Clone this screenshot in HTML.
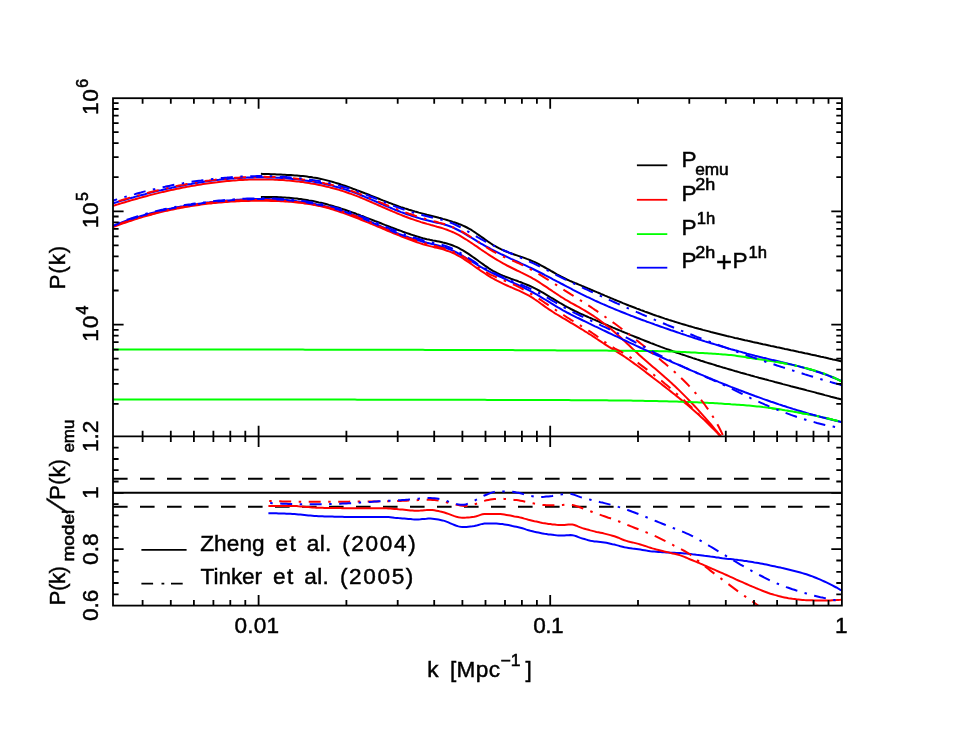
<!DOCTYPE html>
<html><head><meta charset="utf-8"><title>Power spectrum halo model comparison</title>
<style>html,body{margin:0;padding:0;background:#fff}svg{display:block;will-change:transform}text{font-family:"Liberation Sans",sans-serif;fill:#000;stroke:#000;stroke-width:0.45px}</style>
</head><body>
<svg width="955" height="738" viewBox="0 0 955 738">
<rect width="955" height="738" fill="#fff"/>
<defs><clipPath id="ct"><rect x="113.0" y="98.2" width="728.9" height="338.2"/></clipPath><clipPath id="cb"><rect x="113.0" y="436.4" width="728.9" height="169.20000000000005"/></clipPath></defs>
<path d="M260.9 173.8 L262.9 173.9 L264.9 174.0 L266.9 174.1 L268.9 174.1 L270.9 174.2 L272.9 174.3 L274.9 174.3 L276.9 174.4 L278.9 174.5 L280.9 174.6 L282.9 174.7 L284.9 174.8 L286.9 174.9 L288.9 175.0 L290.9 175.1 L292.9 175.2 L294.9 175.4 L296.9 175.5 L298.9 175.7 L300.9 175.9 L302.9 176.1 L304.9 176.3 L306.9 176.6 L308.9 176.9 L310.9 177.1 L312.9 177.5 L314.9 177.8 L316.9 178.1 L318.9 178.5 L320.9 178.9 L322.9 179.4 L324.9 179.9 L326.9 180.4 L328.9 180.9 L330.9 181.4 L332.9 182.0 L334.9 182.6 L336.9 183.2 L338.9 183.8 L340.9 184.5 L342.9 185.1 L344.9 185.8 L346.9 186.5 L348.9 187.2 L350.9 187.9 L352.9 188.7 L354.9 189.4 L356.9 190.2 L358.9 190.9 L360.9 191.7 L362.9 192.5 L364.9 193.3 L366.9 194.0 L368.9 194.8 L370.9 195.6 L372.9 196.4 L374.9 197.2 L376.9 198.0 L378.9 198.8 L380.9 199.6 L382.9 200.4 L384.9 201.1 L386.9 201.9 L388.9 202.7 L390.9 203.4 L392.9 204.2 L394.9 204.9 L396.9 205.6 L398.9 206.4 L400.9 207.1 L402.9 207.7 L404.9 208.4 L406.9 209.0 L408.9 209.7 L410.9 210.3 L412.9 210.9 L414.9 211.5 L416.9 212.0 L418.9 212.6 L420.9 213.1 L422.9 213.6 L424.9 214.1 L426.9 214.7 L428.9 215.2 L430.9 215.7 L432.9 216.2 L434.9 216.7 L436.9 217.2 L438.9 217.8 L440.9 218.3 L442.9 218.9 L444.9 219.4 L446.9 220.0 L448.9 220.6 L450.9 221.2 L452.9 221.9 L454.9 222.5 L456.9 223.2 L458.9 224.0 L460.9 224.7 L462.9 225.6 L464.9 226.5 L466.9 227.5 L468.9 228.6 L470.9 229.7 L472.9 231.0 L474.9 232.3 L476.9 233.7 L478.9 235.1 L480.9 236.5 L482.9 237.9 L484.9 239.4 L486.9 240.8 L488.9 242.2 L490.9 243.5 L492.9 244.8 L494.9 246.0 L496.9 247.1 L498.9 248.2 L500.9 249.2 L502.9 250.1 L504.9 251.0 L506.9 251.8 L508.9 252.6 L510.9 253.3 L512.9 254.0 L514.9 254.7 L516.9 255.4 L518.9 256.1 L520.9 256.8 L522.9 257.4 L524.9 258.1 L526.9 258.9 L528.9 259.6 L530.9 260.5 L532.9 261.3 L534.9 262.2 L536.9 263.2 L538.9 264.2 L540.9 265.3 L542.9 266.4 L544.9 267.5 L546.9 268.6 L548.9 269.7 L550.9 270.9 L552.9 272.0 L554.9 273.1 L556.9 274.3 L558.9 275.4 L560.9 276.5 L562.9 277.5 L564.9 278.5 L566.9 279.5 L568.9 280.4 L570.9 281.3 L572.9 282.1 L574.9 283.0 L576.9 283.8 L578.9 284.6 L580.9 285.4 L582.9 286.3 L584.9 287.1 L586.9 287.9 L588.9 288.8 L590.9 289.6 L592.9 290.5 L594.9 291.3 L596.9 292.2 L598.9 293.0 L600.9 293.9 L602.9 294.7 L604.9 295.6 L606.9 296.4 L608.9 297.3 L610.9 298.1 L612.9 298.9 L614.9 299.8 L616.9 300.6 L618.9 301.4 L620.9 302.2 L622.9 303.1 L624.9 303.9 L626.9 304.7 L628.9 305.5 L630.9 306.2 L632.9 307.0 L634.9 307.8 L636.9 308.6 L638.9 309.3 L640.9 310.1 L642.9 310.8 L644.9 311.6 L646.9 312.3 L648.9 313.0 L650.9 313.7 L652.9 314.5 L654.9 315.2 L656.9 315.9 L658.9 316.5 L660.9 317.2 L662.9 317.9 L664.9 318.6 L666.9 319.2 L668.9 319.9 L670.9 320.5 L672.9 321.1 L674.9 321.8 L676.9 322.4 L678.9 323.0 L680.9 323.6 L682.9 324.2 L684.9 324.8 L686.9 325.4 L688.9 326.0 L690.9 326.5 L692.9 327.1 L694.9 327.7 L696.9 328.2 L698.9 328.8 L700.9 329.3 L702.9 329.9 L704.9 330.4 L706.9 330.9 L708.9 331.4 L710.9 332.0 L712.9 332.5 L714.9 333.0 L716.9 333.5 L718.9 334.0 L720.9 334.5 L722.9 335.0 L724.9 335.5 L726.9 336.0 L728.9 336.4 L730.9 336.9 L732.9 337.4 L734.9 337.9 L736.9 338.3 L738.9 338.8 L740.9 339.2 L742.9 339.7 L744.9 340.2 L746.9 340.6 L748.9 341.1 L750.9 341.5 L752.9 342.0 L754.9 342.4 L756.9 342.8 L758.9 343.3 L760.9 343.7 L762.9 344.2 L764.9 344.6 L766.9 345.0 L768.9 345.4 L770.9 345.9 L772.9 346.3 L774.9 346.7 L776.9 347.2 L778.9 347.6 L780.9 348.0 L782.9 348.4 L784.9 348.9 L786.9 349.3 L788.9 349.7 L790.9 350.2 L792.9 350.6 L794.9 351.0 L796.9 351.4 L798.9 351.9 L800.9 352.3 L802.9 352.7 L804.9 353.2 L806.9 353.6 L808.9 354.0 L810.9 354.5 L812.9 354.9 L814.9 355.3 L816.9 355.8 L818.9 356.2 L820.9 356.7 L822.9 357.1 L824.9 357.6 L826.9 358.0 L828.9 358.5 L830.9 358.9 L832.9 359.4 L834.9 359.8 L836.9 360.3 L838.9 360.8 L840.9 361.2 L842.0 361.5" fill="none" stroke="#000" stroke-width="2.0" clip-path="url(#ct)"/>
<path d="M260.9 196.9 L262.9 196.9 L264.9 196.9 L266.9 196.9 L268.9 196.9 L270.9 196.9 L272.9 197.0 L274.9 197.0 L276.9 197.1 L278.9 197.2 L280.9 197.3 L282.9 197.4 L284.9 197.5 L286.9 197.7 L288.9 197.8 L290.9 198.0 L292.9 198.2 L294.9 198.4 L296.9 198.6 L298.9 198.9 L300.9 199.1 L302.9 199.4 L304.9 199.7 L306.9 200.0 L308.9 200.4 L310.9 200.7 L312.9 201.1 L314.9 201.5 L316.9 201.9 L318.9 202.4 L320.9 202.8 L322.9 203.3 L324.9 203.8 L326.9 204.3 L328.9 204.9 L330.9 205.4 L332.9 206.0 L334.9 206.6 L336.9 207.2 L338.9 207.8 L340.9 208.5 L342.9 209.1 L344.9 209.8 L346.9 210.5 L348.9 211.2 L350.9 211.9 L352.9 212.6 L354.9 213.3 L356.9 214.1 L358.9 214.8 L360.9 215.6 L362.9 216.3 L364.9 217.1 L366.9 217.9 L368.9 218.6 L370.9 219.4 L372.9 220.2 L374.9 221.0 L376.9 221.7 L378.9 222.5 L380.9 223.3 L382.9 224.1 L384.9 224.9 L386.9 225.6 L388.9 226.4 L390.9 227.2 L392.9 227.9 L394.9 228.7 L396.9 229.5 L398.9 230.2 L400.9 230.9 L402.9 231.7 L404.9 232.4 L406.9 233.1 L408.9 233.8 L410.9 234.5 L412.9 235.1 L414.9 235.8 L416.9 236.4 L418.9 237.0 L420.9 237.6 L422.9 238.2 L424.9 238.7 L426.9 239.2 L428.9 239.6 L430.9 240.1 L432.9 240.5 L434.9 240.8 L436.9 241.2 L438.9 241.6 L440.9 242.0 L442.9 242.5 L444.9 242.9 L446.9 243.5 L448.9 244.1 L450.9 244.7 L452.9 245.5 L454.9 246.3 L456.9 247.2 L458.9 248.2 L460.9 249.3 L462.9 250.4 L464.9 251.6 L466.9 252.9 L468.9 254.2 L470.9 255.6 L472.9 257.0 L474.9 258.4 L476.9 259.8 L478.9 261.3 L480.9 262.7 L482.9 264.1 L484.9 265.6 L486.9 266.9 L488.9 268.3 L490.9 269.6 L492.9 270.8 L494.9 271.9 L496.9 273.0 L498.9 273.9 L500.9 274.8 L502.9 275.7 L504.9 276.5 L506.9 277.2 L508.9 277.9 L510.9 278.7 L512.9 279.4 L514.9 280.1 L516.9 280.8 L518.9 281.6 L520.9 282.3 L522.9 283.1 L524.9 283.9 L526.9 284.7 L528.9 285.5 L530.9 286.4 L532.9 287.4 L534.9 288.4 L536.9 289.4 L538.9 290.5 L540.9 291.6 L542.9 292.7 L544.9 293.9 L546.9 295.1 L548.9 296.3 L550.9 297.5 L552.9 298.7 L554.9 299.9 L556.9 301.1 L558.9 302.3 L560.9 303.5 L562.9 304.6 L564.9 305.8 L566.9 306.9 L568.9 307.9 L570.9 309.0 L572.9 310.0 L574.9 311.0 L576.9 311.9 L578.9 312.9 L580.9 313.8 L582.9 314.7 L584.9 315.6 L586.9 316.5 L588.9 317.4 L590.9 318.2 L592.9 319.1 L594.9 319.9 L596.9 320.8 L598.9 321.6 L600.9 322.5 L602.9 323.3 L604.9 324.2 L606.9 325.0 L608.9 325.9 L610.9 326.7 L612.9 327.6 L614.9 328.4 L616.9 329.3 L618.9 330.1 L620.9 330.9 L622.9 331.8 L624.9 332.6 L626.9 333.4 L628.9 334.2 L630.9 335.1 L632.9 335.9 L634.9 336.7 L636.9 337.5 L638.9 338.3 L640.9 339.1 L642.9 339.9 L644.9 340.7 L646.9 341.5 L648.9 342.3 L650.9 343.1 L652.9 343.8 L654.9 344.6 L656.9 345.4 L658.9 346.1 L660.9 346.9 L662.9 347.6 L664.9 348.4 L666.9 349.1 L668.9 349.8 L670.9 350.5 L672.9 351.3 L674.9 352.0 L676.9 352.7 L678.9 353.4 L680.9 354.1 L682.9 354.7 L684.9 355.4 L686.9 356.1 L688.9 356.8 L690.9 357.4 L692.9 358.1 L694.9 358.7 L696.9 359.4 L698.9 360.0 L700.9 360.7 L702.9 361.3 L704.9 362.0 L706.9 362.6 L708.9 363.2 L710.9 363.8 L712.9 364.4 L714.9 365.0 L716.9 365.7 L718.9 366.3 L720.9 366.9 L722.9 367.5 L724.9 368.0 L726.9 368.6 L728.9 369.2 L730.9 369.8 L732.9 370.4 L734.9 371.0 L736.9 371.5 L738.9 372.1 L740.9 372.7 L742.9 373.2 L744.9 373.8 L746.9 374.4 L748.9 374.9 L750.9 375.5 L752.9 376.0 L754.9 376.6 L756.9 377.1 L758.9 377.7 L760.9 378.2 L762.9 378.7 L764.9 379.3 L766.9 379.8 L768.9 380.4 L770.9 380.9 L772.9 381.4 L774.9 382.0 L776.9 382.5 L778.9 383.0 L780.9 383.5 L782.9 384.1 L784.9 384.6 L786.9 385.1 L788.9 385.6 L790.9 386.2 L792.9 386.7 L794.9 387.2 L796.9 387.7 L798.9 388.3 L800.9 388.8 L802.9 389.3 L804.9 389.8 L806.9 390.4 L808.9 390.9 L810.9 391.4 L812.9 391.9 L814.9 392.4 L816.9 393.0 L818.9 393.5 L820.9 394.0 L822.9 394.5 L824.9 395.1 L826.9 395.6 L828.9 396.1 L830.9 396.7 L832.9 397.2 L834.9 397.7 L836.9 398.3 L838.9 398.8 L840.9 399.3 L842.0 399.6" fill="none" stroke="#000" stroke-width="2.0" clip-path="url(#ct)"/>
<path d="M113.0 205.9 L115.0 205.3 L117.0 204.6 L119.0 204.0 L121.0 203.4 L123.0 202.8 L125.0 202.2 L127.0 201.6 L129.0 201.0 L131.0 200.4 L133.0 199.8 L135.0 199.3 L137.0 198.7 L139.0 198.1 L141.0 197.6 L143.0 197.0 L145.0 196.5 L147.0 196.0 L149.0 195.4 L151.0 194.9 L153.0 194.4 L155.0 193.9 L157.0 193.4 L159.0 192.9 L161.0 192.4 L163.0 191.9 L165.0 191.5 L167.0 191.0 L169.0 190.5 L171.0 190.1 L173.0 189.7 L175.0 189.2 L177.0 188.8 L179.0 188.4 L181.0 188.0 L183.0 187.6 L185.0 187.2 L187.0 186.8 L189.0 186.4 L191.0 186.1 L193.0 185.7 L195.0 185.4 L197.0 185.0 L199.0 184.7 L201.0 184.4 L203.0 184.1 L205.0 183.8 L207.0 183.5 L209.0 183.2 L211.0 182.9 L213.0 182.7 L215.0 182.4 L217.0 182.2 L219.0 181.9 L221.0 181.7 L223.0 181.5 L225.0 181.3 L227.0 181.1 L229.0 180.9 L231.0 180.7 L233.0 180.6 L235.0 180.4 L237.0 180.3 L239.0 180.1 L241.0 180.0 L243.0 179.9 L245.0 179.8 L247.0 179.7 L249.0 179.6 L251.0 179.6 L253.0 179.5 L255.0 179.5 L257.0 179.5 L259.0 179.4 L261.0 179.4 L263.0 179.4 L265.0 179.4 L267.0 179.5 L269.0 179.5 L271.0 179.6 L273.0 179.6 L275.0 179.7 L277.0 179.8 L279.0 179.9 L281.0 180.0 L283.0 180.1 L285.0 180.3 L287.0 180.4 L289.0 180.6 L291.0 180.8 L293.0 181.0 L295.0 181.2 L297.0 181.4 L299.0 181.6 L301.0 181.9 L303.0 182.1 L305.0 182.4 L307.0 182.7 L309.0 183.0 L311.0 183.4 L313.0 183.7 L315.0 184.1 L317.0 184.5 L319.0 184.9 L321.0 185.3 L323.0 185.7 L325.0 186.2 L327.0 186.7 L329.0 187.1 L331.0 187.7 L333.0 188.2 L335.0 188.7 L337.0 189.3 L339.0 189.9 L341.0 190.5 L343.0 191.1 L345.0 191.8 L347.0 192.5 L349.0 193.2 L351.0 193.9 L353.0 194.6 L355.0 195.4 L357.0 196.1 L359.0 196.9 L361.0 197.7 L363.0 198.6 L365.0 199.4 L367.0 200.3 L369.0 201.1 L371.0 202.0 L373.0 202.9 L375.0 203.7 L377.0 204.6 L379.0 205.5 L381.0 206.4 L383.0 207.3 L385.0 208.1 L387.0 209.0 L389.0 209.9 L391.0 210.7 L393.0 211.6 L395.0 212.4 L397.0 213.3 L399.0 214.1 L401.0 214.9 L403.0 215.7 L405.0 216.5 L407.0 217.2 L409.0 218.0 L411.0 218.7 L413.0 219.4 L415.0 220.1 L417.0 220.8 L419.0 221.4 L421.0 222.1 L423.0 222.7 L425.0 223.3 L427.0 223.9 L429.0 224.4 L431.0 225.0 L433.0 225.5 L435.0 226.1 L437.0 226.7 L439.0 227.2 L441.0 227.8 L443.0 228.4 L445.0 229.1 L447.0 229.8 L449.0 230.6 L451.0 231.4 L453.0 232.2 L455.0 233.2 L457.0 234.2 L459.0 235.2 L461.0 236.4 L463.0 237.6 L465.0 238.8 L467.0 240.0 L469.0 241.3 L471.0 242.7 L473.0 244.0 L475.0 245.4 L477.0 246.7 L479.0 248.1 L481.0 249.5 L483.0 250.8 L485.0 252.2 L487.0 253.5 L489.0 254.8 L491.0 256.1 L493.0 257.3 L495.0 258.6 L497.0 259.8 L499.0 261.0 L501.0 262.2 L503.0 263.3 L505.0 264.4 L507.0 265.5 L509.0 266.5 L511.0 267.5 L513.0 268.5 L515.0 269.5 L517.0 270.5 L519.0 271.4 L521.0 272.4 L523.0 273.3 L525.0 274.3 L527.0 275.3 L529.0 276.4 L531.0 277.4 L533.0 278.6 L535.0 279.7 L537.0 280.9 L539.0 282.2 L541.0 283.5 L543.0 284.8 L545.0 286.1 L547.0 287.4 L549.0 288.8 L551.0 290.1 L553.0 291.5 L555.0 292.8 L557.0 294.2 L559.0 295.5 L561.0 296.8 L563.0 298.0 L565.0 299.3 L567.0 300.5 L569.0 301.6 L571.0 302.8 L573.0 303.9 L575.0 305.0 L577.0 306.1 L579.0 307.2 L581.0 308.3 L583.0 309.5 L585.0 310.7 L587.0 311.9 L589.0 313.1 L591.0 314.4 L593.0 315.7 L595.0 317.0 L597.0 318.4 L599.0 319.8 L601.0 321.2 L603.0 322.7 L605.0 324.2 L607.0 325.8 L609.0 327.4 L611.0 329.0 L613.0 330.7 L615.0 332.4 L617.0 334.2 L619.0 336.0 L621.0 337.8 L623.0 339.7 L625.0 341.5 L627.0 343.4 L629.0 345.3 L631.0 347.2 L633.0 349.1 L635.0 351.0 L637.0 352.8 L639.0 354.7 L641.0 356.5 L643.0 358.3 L645.0 360.0 L647.0 361.7 L649.0 363.5 L651.0 365.2 L653.0 366.9 L655.0 368.6 L657.0 370.3 L659.0 372.0 L661.0 373.7 L663.0 375.4 L665.0 377.2 L667.0 378.9 L669.0 380.7 L671.0 382.6 L673.0 384.4 L675.0 386.3 L677.0 388.2 L679.0 390.1 L681.0 392.1 L683.0 394.1 L685.0 396.1 L687.0 398.1 L689.0 400.2 L691.0 402.3 L693.0 404.4 L695.0 406.5 L697.0 408.7 L699.0 410.9 L701.0 413.1 L703.0 415.3 L705.0 417.6 L707.0 419.9 L709.0 422.2 L711.0 424.5 L713.0 426.9 L715.0 429.3 L717.0 431.7 L719.0 434.1 L721.0 436.6 L721.3 437.0" fill="none" stroke="#ff0000" stroke-width="2.0" clip-path="url(#ct)"/>
<path d="M113.0 227.1 L115.0 226.3 L117.0 225.6 L119.0 224.8 L121.0 224.1 L123.0 223.4 L125.0 222.7 L127.0 222.0 L129.0 221.3 L131.0 220.7 L133.0 220.0 L135.0 219.4 L137.0 218.7 L139.0 218.1 L141.0 217.5 L143.0 216.9 L145.0 216.3 L147.0 215.8 L149.0 215.2 L151.0 214.7 L153.0 214.1 L155.0 213.6 L157.0 213.1 L159.0 212.6 L161.0 212.1 L163.0 211.6 L165.0 211.1 L167.0 210.7 L169.0 210.2 L171.0 209.8 L173.0 209.4 L175.0 209.0 L177.0 208.6 L179.0 208.2 L181.0 207.8 L183.0 207.4 L185.0 207.1 L187.0 206.7 L189.0 206.4 L191.0 206.1 L193.0 205.8 L195.0 205.4 L197.0 205.2 L199.0 204.9 L201.0 204.6 L203.0 204.3 L205.0 204.1 L207.0 203.8 L209.0 203.6 L211.0 203.4 L213.0 203.1 L215.0 202.9 L217.0 202.7 L219.0 202.6 L221.0 202.4 L223.0 202.2 L225.0 202.1 L227.0 201.9 L229.0 201.8 L231.0 201.6 L233.0 201.5 L235.0 201.4 L237.0 201.3 L239.0 201.2 L241.0 201.1 L243.0 201.0 L245.0 201.0 L247.0 200.9 L249.0 200.9 L251.0 200.8 L253.0 200.8 L255.0 200.8 L257.0 200.7 L259.0 200.7 L261.0 200.7 L263.0 200.7 L265.0 200.8 L267.0 200.8 L269.0 200.8 L271.0 200.9 L273.0 200.9 L275.0 201.0 L277.0 201.0 L279.0 201.1 L281.0 201.2 L283.0 201.3 L285.0 201.4 L287.0 201.5 L289.0 201.7 L291.0 201.8 L293.0 202.0 L295.0 202.2 L297.0 202.4 L299.0 202.6 L301.0 202.8 L303.0 203.1 L305.0 203.4 L307.0 203.7 L309.0 204.0 L311.0 204.3 L313.0 204.7 L315.0 205.1 L317.0 205.5 L319.0 205.9 L321.0 206.4 L323.0 206.9 L325.0 207.4 L327.0 207.9 L329.0 208.4 L331.0 209.0 L333.0 209.6 L335.0 210.2 L337.0 210.9 L339.0 211.5 L341.0 212.2 L343.0 212.9 L345.0 213.6 L347.0 214.3 L349.0 215.0 L351.0 215.8 L353.0 216.5 L355.0 217.3 L357.0 218.1 L359.0 218.9 L361.0 219.7 L363.0 220.5 L365.0 221.3 L367.0 222.1 L369.0 222.9 L371.0 223.7 L373.0 224.6 L375.0 225.4 L377.0 226.3 L379.0 227.1 L381.0 227.9 L383.0 228.8 L385.0 229.6 L387.0 230.5 L389.0 231.3 L391.0 232.1 L393.0 233.0 L395.0 233.8 L397.0 234.6 L399.0 235.4 L401.0 236.2 L403.0 237.0 L405.0 237.8 L407.0 238.5 L409.0 239.3 L411.0 240.1 L413.0 240.8 L415.0 241.5 L417.0 242.2 L419.0 242.9 L421.0 243.5 L423.0 244.2 L425.0 244.8 L427.0 245.3 L429.0 245.9 L431.0 246.4 L433.0 246.9 L435.0 247.4 L437.0 247.8 L439.0 248.4 L441.0 248.9 L443.0 249.4 L445.0 250.0 L447.0 250.7 L449.0 251.4 L451.0 252.1 L453.0 253.0 L455.0 253.9 L457.0 255.0 L459.0 256.1 L461.0 257.2 L463.0 258.5 L465.0 259.8 L467.0 261.1 L469.0 262.5 L471.0 263.8 L473.0 265.3 L475.0 266.7 L477.0 268.1 L479.0 269.5 L481.0 270.9 L483.0 272.2 L485.0 273.5 L487.0 274.8 L489.0 276.1 L491.0 277.3 L493.0 278.5 L495.0 279.6 L497.0 280.7 L499.0 281.7 L501.0 282.7 L503.0 283.7 L505.0 284.6 L507.0 285.5 L509.0 286.4 L511.0 287.2 L513.0 288.1 L515.0 289.0 L517.0 289.8 L519.0 290.7 L521.0 291.6 L523.0 292.6 L525.0 293.6 L527.0 294.6 L529.0 295.7 L531.0 296.9 L533.0 298.1 L535.0 299.5 L537.0 300.8 L539.0 302.2 L541.0 303.7 L543.0 305.1 L545.0 306.6 L547.0 308.0 L549.0 309.4 L551.0 310.7 L553.0 312.0 L555.0 313.3 L557.0 314.5 L559.0 315.7 L561.0 316.9 L563.0 318.1 L565.0 319.2 L567.0 320.4 L569.0 321.6 L571.0 322.8 L573.0 323.9 L575.0 325.1 L577.0 326.3 L579.0 327.6 L581.0 328.8 L583.0 330.0 L585.0 331.3 L587.0 332.5 L589.0 333.8 L591.0 335.0 L593.0 336.3 L595.0 337.6 L597.0 339.0 L599.0 340.3 L601.0 341.6 L603.0 343.0 L605.0 344.3 L607.0 345.6 L609.0 346.9 L611.0 348.1 L613.0 349.4 L615.0 350.6 L617.0 351.8 L619.0 353.1 L621.0 354.4 L623.0 355.7 L625.0 357.0 L627.0 358.4 L629.0 359.8 L631.0 361.2 L633.0 362.6 L635.0 364.1 L637.0 365.5 L639.0 367.0 L641.0 368.5 L643.0 370.0 L645.0 371.5 L647.0 373.1 L649.0 374.6 L651.0 376.1 L653.0 377.7 L655.0 379.2 L657.0 380.7 L659.0 382.3 L661.0 383.8 L663.0 385.4 L665.0 386.9 L667.0 388.5 L669.0 390.0 L671.0 391.6 L673.0 393.2 L675.0 394.8 L677.0 396.4 L679.0 398.0 L681.0 399.6 L683.0 401.3 L685.0 402.9 L687.0 404.6 L689.0 406.3 L691.0 408.0 L693.0 409.7 L695.0 411.5 L697.0 413.3 L699.0 415.1 L701.0 416.9 L703.0 418.7 L705.0 420.6 L707.0 422.5 L709.0 424.5 L711.0 426.5 L713.0 428.5 L715.0 430.5 L717.0 432.6 L719.0 434.7 L720.8 436.7" fill="none" stroke="#ff0000" stroke-width="2.0" clip-path="url(#ct)"/>
<path d="M113.0 349.5 L115.0 349.5 L117.0 349.5 L119.0 349.5 L121.0 349.5 L123.0 349.5 L125.0 349.5 L127.0 349.5 L129.0 349.5 L131.0 349.5 L133.0 349.5 L135.0 349.5 L137.0 349.5 L139.0 349.5 L141.0 349.5 L143.0 349.5 L145.0 349.5 L147.0 349.5 L149.0 349.5 L151.0 349.5 L153.0 349.5 L155.0 349.5 L157.0 349.5 L159.0 349.5 L161.0 349.5 L163.0 349.5 L165.0 349.5 L167.0 349.5 L169.0 349.5 L171.0 349.5 L173.0 349.5 L175.0 349.5 L177.0 349.5 L179.0 349.5 L181.0 349.5 L183.0 349.5 L185.0 349.5 L187.0 349.5 L189.0 349.5 L191.0 349.5 L193.0 349.5 L195.0 349.5 L197.0 349.5 L199.0 349.5 L201.0 349.5 L203.0 349.5 L205.0 349.5 L207.0 349.5 L209.0 349.5 L211.0 349.5 L213.0 349.5 L215.0 349.5 L217.0 349.5 L219.0 349.6 L221.0 349.6 L223.0 349.6 L225.0 349.6 L227.0 349.6 L229.0 349.6 L231.0 349.6 L233.0 349.6 L235.0 349.6 L237.0 349.6 L239.0 349.6 L241.0 349.6 L243.0 349.6 L245.0 349.6 L247.0 349.6 L249.0 349.6 L251.0 349.6 L253.0 349.6 L255.0 349.6 L257.0 349.6 L259.0 349.6 L261.0 349.6 L263.0 349.6 L265.0 349.6 L267.0 349.6 L269.0 349.6 L271.0 349.6 L273.0 349.6 L275.0 349.6 L277.0 349.6 L279.0 349.6 L281.0 349.6 L283.0 349.6 L285.0 349.6 L287.0 349.6 L289.0 349.6 L291.0 349.6 L293.0 349.6 L295.0 349.6 L297.0 349.6 L299.0 349.6 L301.0 349.6 L303.0 349.6 L305.0 349.7 L307.0 349.7 L309.0 349.7 L311.0 349.7 L313.0 349.7 L315.0 349.7 L317.0 349.7 L319.0 349.7 L321.0 349.7 L323.0 349.7 L325.0 349.7 L327.0 349.7 L329.0 349.7 L331.0 349.7 L333.0 349.7 L335.0 349.7 L337.0 349.7 L339.0 349.7 L341.0 349.7 L343.0 349.7 L345.0 349.7 L347.0 349.7 L349.0 349.7 L351.0 349.7 L353.0 349.7 L355.0 349.7 L357.0 349.7 L359.0 349.7 L361.0 349.7 L363.0 349.7 L365.0 349.7 L367.0 349.7 L369.0 349.7 L371.0 349.8 L373.0 349.8 L375.0 349.8 L377.0 349.8 L379.0 349.8 L381.0 349.8 L383.0 349.8 L385.0 349.8 L387.0 349.8 L389.0 349.8 L391.0 349.8 L393.0 349.8 L395.0 349.8 L397.0 349.8 L399.0 349.8 L401.0 349.8 L403.0 349.8 L405.0 349.8 L407.0 349.8 L409.0 349.8 L411.0 349.8 L413.0 349.8 L415.0 349.8 L417.0 349.8 L419.0 349.8 L421.0 349.8 L423.0 349.8 L425.0 349.9 L427.0 349.9 L429.0 349.9 L431.0 349.9 L433.0 349.9 L435.0 349.9 L437.0 349.9 L439.0 349.9 L441.0 349.9 L443.0 349.9 L445.0 349.9 L447.0 349.9 L449.0 349.9 L451.0 349.9 L453.0 349.9 L455.0 349.9 L457.0 349.9 L459.0 349.9 L461.0 349.9 L463.0 350.0 L465.0 350.0 L467.0 350.0 L469.0 350.0 L471.0 350.0 L473.0 350.0 L475.0 350.0 L477.0 350.0 L479.0 350.0 L481.0 350.0 L483.0 350.0 L485.0 350.0 L487.0 350.0 L489.0 350.0 L491.0 350.1 L493.0 350.1 L495.0 350.1 L497.0 350.1 L499.0 350.1 L501.0 350.1 L503.0 350.1 L505.0 350.1 L507.0 350.1 L509.0 350.1 L511.0 350.1 L513.0 350.1 L515.0 350.2 L517.0 350.2 L519.0 350.2 L521.0 350.2 L523.0 350.2 L525.0 350.2 L527.0 350.2 L529.0 350.2 L531.0 350.2 L533.0 350.2 L535.0 350.2 L537.0 350.3 L539.0 350.3 L541.0 350.3 L543.0 350.3 L545.0 350.3 L547.0 350.3 L549.0 350.3 L551.0 350.3 L553.0 350.3 L555.0 350.3 L557.0 350.4 L559.0 350.4 L561.0 350.4 L563.0 350.4 L565.0 350.4 L567.0 350.4 L569.0 350.4 L571.0 350.4 L573.0 350.4 L575.0 350.5 L577.0 350.5 L579.0 350.5 L581.0 350.5 L583.0 350.5 L585.0 350.5 L587.0 350.5 L589.0 350.5 L591.0 350.5 L593.0 350.6 L595.0 350.6 L597.0 350.6 L599.0 350.6 L601.0 350.6 L603.0 350.6 L605.0 350.6 L607.0 350.6 L609.0 350.7 L611.0 350.7 L613.0 350.7 L615.0 350.7 L617.0 350.7 L619.0 350.7 L621.0 350.7 L623.0 350.8 L625.0 350.8 L627.0 350.8 L629.0 350.8 L631.0 350.8 L633.0 350.8 L635.0 350.9 L637.0 350.9 L639.0 350.9 L641.0 350.9 L643.0 350.9 L645.0 351.0 L647.0 351.0 L649.0 351.0 L651.0 351.0 L653.0 351.1 L655.0 351.1 L657.0 351.1 L659.0 351.2 L661.0 351.2 L663.0 351.2 L665.0 351.3 L667.0 351.3 L669.0 351.4 L671.0 351.5 L673.0 351.5 L675.0 351.6 L677.0 351.7 L679.0 351.8 L681.0 351.9 L683.0 352.0 L685.0 352.1 L687.0 352.2 L689.0 352.3 L691.0 352.4 L693.0 352.5 L695.0 352.6 L697.0 352.7 L699.0 352.9 L701.0 353.0 L703.0 353.1 L705.0 353.2 L707.0 353.3 L709.0 353.4 L711.0 353.5 L713.0 353.7 L715.0 353.8 L717.0 353.9 L719.0 354.1 L721.0 354.2 L723.0 354.4 L725.0 354.5 L727.0 354.7 L729.0 354.9 L731.0 355.1 L733.0 355.3 L735.0 355.6 L737.0 355.9 L739.0 356.2 L741.0 356.5 L743.0 356.8 L745.0 357.1 L747.0 357.4 L749.0 357.7 L751.0 358.0 L753.0 358.3 L755.0 358.6 L757.0 358.9 L759.0 359.2 L761.0 359.5 L763.0 359.8 L765.0 360.1 L767.0 360.4 L769.0 360.7 L771.0 361.0 L773.0 361.3 L775.0 361.7 L777.0 362.0 L779.0 362.3 L781.0 362.7 L783.0 363.1 L785.0 363.4 L787.0 363.8 L789.0 364.2 L791.0 364.6 L793.0 365.1 L795.0 365.5 L797.0 365.9 L799.0 366.4 L801.0 366.9 L803.0 367.4 L805.0 367.9 L807.0 368.4 L809.0 369.0 L811.0 369.5 L813.0 370.1 L815.0 370.7 L817.0 371.3 L819.0 371.9 L821.0 372.6 L823.0 373.3 L825.0 374.0 L827.0 374.8 L829.0 375.6 L831.0 376.4 L833.0 377.2 L835.0 378.2 L837.0 379.1 L839.0 380.1 L841.0 381.1 L842.0 381.6" fill="none" stroke="#00ff00" stroke-width="2.0" clip-path="url(#ct)"/>
<path d="M113.0 399.5 L115.0 399.5 L117.0 399.5 L119.0 399.5 L121.0 399.5 L123.0 399.5 L125.0 399.5 L127.0 399.5 L129.0 399.5 L131.0 399.5 L133.0 399.5 L135.0 399.5 L137.0 399.5 L139.0 399.5 L141.0 399.5 L143.0 399.5 L145.0 399.5 L147.0 399.5 L149.0 399.5 L151.0 399.5 L153.0 399.5 L155.0 399.5 L157.0 399.5 L159.0 399.5 L161.0 399.5 L163.0 399.5 L165.0 399.5 L167.0 399.5 L169.0 399.5 L171.0 399.5 L173.0 399.5 L175.0 399.5 L177.0 399.5 L179.0 399.5 L181.0 399.5 L183.0 399.5 L185.0 399.5 L187.0 399.5 L189.0 399.5 L191.0 399.5 L193.0 399.5 L195.0 399.5 L197.0 399.5 L199.0 399.5 L201.0 399.5 L203.0 399.5 L205.0 399.5 L207.0 399.5 L209.0 399.5 L211.0 399.5 L213.0 399.5 L215.0 399.5 L217.0 399.5 L219.0 399.5 L221.0 399.5 L223.0 399.5 L225.0 399.5 L227.0 399.5 L229.0 399.5 L231.0 399.5 L233.0 399.5 L235.0 399.5 L237.0 399.5 L239.0 399.5 L241.0 399.5 L243.0 399.5 L245.0 399.5 L247.0 399.6 L249.0 399.6 L251.0 399.6 L253.0 399.6 L255.0 399.6 L257.0 399.6 L259.0 399.6 L261.0 399.6 L263.0 399.6 L265.0 399.6 L267.0 399.6 L269.0 399.6 L271.0 399.6 L273.0 399.6 L275.0 399.6 L277.0 399.6 L279.0 399.6 L281.0 399.6 L283.0 399.6 L285.0 399.6 L287.0 399.6 L289.0 399.6 L291.0 399.6 L293.0 399.6 L295.0 399.6 L297.0 399.6 L299.0 399.6 L301.0 399.6 L303.0 399.6 L305.0 399.6 L307.0 399.6 L309.0 399.6 L311.0 399.6 L313.0 399.6 L315.0 399.6 L317.0 399.6 L319.0 399.6 L321.0 399.6 L323.0 399.6 L325.0 399.6 L327.0 399.6 L329.0 399.6 L331.0 399.6 L333.0 399.6 L335.0 399.6 L337.0 399.6 L339.0 399.6 L341.0 399.6 L343.0 399.6 L345.0 399.6 L347.0 399.6 L349.0 399.6 L351.0 399.6 L353.0 399.6 L355.0 399.6 L357.0 399.7 L359.0 399.7 L361.0 399.7 L363.0 399.7 L365.0 399.7 L367.0 399.7 L369.0 399.7 L371.0 399.7 L373.0 399.7 L375.0 399.7 L377.0 399.7 L379.0 399.7 L381.0 399.7 L383.0 399.7 L385.0 399.7 L387.0 399.7 L389.0 399.7 L391.0 399.7 L393.0 399.7 L395.0 399.7 L397.0 399.7 L399.0 399.7 L401.0 399.7 L403.0 399.7 L405.0 399.7 L407.0 399.7 L409.0 399.7 L411.0 399.7 L413.0 399.7 L415.0 399.7 L417.0 399.7 L419.0 399.7 L421.0 399.7 L423.0 399.7 L425.0 399.7 L427.0 399.7 L429.0 399.7 L431.0 399.7 L433.0 399.7 L435.0 399.7 L437.0 399.8 L439.0 399.8 L441.0 399.8 L443.0 399.8 L445.0 399.8 L447.0 399.8 L449.0 399.8 L451.0 399.8 L453.0 399.8 L455.0 399.8 L457.0 399.8 L459.0 399.8 L461.0 399.8 L463.0 399.8 L465.0 399.8 L467.0 399.8 L469.0 399.8 L471.0 399.8 L473.0 399.8 L475.0 399.8 L477.0 399.8 L479.0 399.8 L481.0 399.8 L483.0 399.8 L485.0 399.8 L487.0 399.9 L489.0 399.9 L491.0 399.9 L493.0 399.9 L495.0 399.9 L497.0 399.9 L499.0 399.9 L501.0 399.9 L503.0 399.9 L505.0 399.9 L507.0 399.9 L509.0 399.9 L511.0 399.9 L513.0 399.9 L515.0 399.9 L517.0 399.9 L519.0 399.9 L521.0 400.0 L523.0 400.0 L525.0 400.0 L527.0 400.0 L529.0 400.0 L531.0 400.0 L533.0 400.0 L535.0 400.0 L537.0 400.0 L539.0 400.0 L541.0 400.0 L543.0 400.0 L545.0 400.0 L547.0 400.0 L549.0 400.1 L551.0 400.1 L553.0 400.1 L555.0 400.1 L557.0 400.1 L559.0 400.1 L561.0 400.1 L563.0 400.1 L565.0 400.1 L567.0 400.1 L569.0 400.1 L571.0 400.2 L573.0 400.2 L575.0 400.2 L577.0 400.2 L579.0 400.2 L581.0 400.2 L583.0 400.2 L585.0 400.2 L587.0 400.2 L589.0 400.2 L591.0 400.3 L593.0 400.3 L595.0 400.3 L597.0 400.3 L599.0 400.3 L601.0 400.3 L603.0 400.3 L605.0 400.3 L607.0 400.3 L609.0 400.4 L611.0 400.4 L613.0 400.4 L615.0 400.4 L617.0 400.4 L619.0 400.5 L621.0 400.5 L623.0 400.5 L625.0 400.6 L627.0 400.6 L629.0 400.6 L631.0 400.6 L633.0 400.7 L635.0 400.7 L637.0 400.7 L639.0 400.8 L641.0 400.8 L643.0 400.8 L645.0 400.9 L647.0 400.9 L649.0 401.0 L651.0 401.0 L653.0 401.0 L655.0 401.1 L657.0 401.1 L659.0 401.2 L661.0 401.2 L663.0 401.2 L665.0 401.3 L667.0 401.3 L669.0 401.4 L671.0 401.4 L673.0 401.5 L675.0 401.5 L677.0 401.6 L679.0 401.7 L681.0 401.7 L683.0 401.8 L685.0 401.9 L687.0 401.9 L689.0 402.0 L691.0 402.1 L693.0 402.2 L695.0 402.2 L697.0 402.3 L699.0 402.4 L701.0 402.5 L703.0 402.6 L705.0 402.7 L707.0 402.8 L709.0 402.9 L711.0 403.0 L713.0 403.1 L715.0 403.2 L717.0 403.3 L719.0 403.5 L721.0 403.6 L723.0 403.7 L725.0 403.9 L727.0 404.0 L729.0 404.1 L731.0 404.3 L733.0 404.4 L735.0 404.5 L737.0 404.7 L739.0 404.8 L741.0 405.0 L743.0 405.1 L745.0 405.3 L747.0 405.5 L749.0 405.6 L751.0 405.8 L753.0 406.0 L755.0 406.2 L757.0 406.4 L759.0 406.6 L761.0 406.8 L763.0 407.1 L765.0 407.3 L767.0 407.6 L769.0 407.8 L771.0 408.1 L773.0 408.4 L775.0 408.7 L777.0 409.0 L779.0 409.3 L781.0 409.6 L783.0 409.9 L785.0 410.3 L787.0 410.6 L789.0 410.9 L791.0 411.2 L793.0 411.6 L795.0 411.9 L797.0 412.3 L799.0 412.6 L801.0 413.0 L803.0 413.4 L805.0 413.8 L807.0 414.1 L809.0 414.5 L811.0 414.9 L813.0 415.3 L815.0 415.7 L817.0 416.1 L819.0 416.5 L821.0 416.9 L823.0 417.4 L825.0 417.8 L827.0 418.3 L829.0 418.7 L831.0 419.2 L833.0 419.8 L835.0 420.3 L837.0 420.8 L839.0 421.4 L841.0 422.0 L842.0 422.3" fill="none" stroke="#00ff00" stroke-width="2.0" clip-path="url(#ct)"/>
<path d="M113.0 203.4 L115.0 202.8 L117.0 202.1 L119.0 201.5 L121.0 200.9 L123.0 200.3 L125.0 199.8 L127.0 199.2 L129.0 198.6 L131.0 198.0 L133.0 197.5 L135.0 196.9 L137.0 196.3 L139.0 195.8 L141.0 195.2 L143.0 194.7 L145.0 194.2 L147.0 193.6 L149.0 193.1 L151.0 192.6 L153.0 192.1 L155.0 191.6 L157.0 191.1 L159.0 190.6 L161.0 190.2 L163.0 189.7 L165.0 189.2 L167.0 188.8 L169.0 188.3 L171.0 187.9 L173.0 187.4 L175.0 187.0 L177.0 186.6 L179.0 186.2 L181.0 185.8 L183.0 185.4 L185.0 185.0 L187.0 184.6 L189.0 184.2 L191.0 183.9 L193.0 183.5 L195.0 183.2 L197.0 182.9 L199.0 182.5 L201.0 182.2 L203.0 181.9 L205.0 181.6 L207.0 181.3 L209.0 181.0 L211.0 180.8 L213.0 180.5 L215.0 180.2 L217.0 180.0 L219.0 179.8 L221.0 179.5 L223.0 179.3 L225.0 179.1 L227.0 178.9 L229.0 178.7 L231.0 178.6 L233.0 178.4 L235.0 178.3 L237.0 178.1 L239.0 178.0 L241.0 177.9 L243.0 177.8 L245.0 177.7 L247.0 177.6 L249.0 177.5 L251.0 177.4 L253.0 177.4 L255.0 177.3 L257.0 177.3 L259.0 177.3 L261.0 177.3 L263.0 177.3 L265.0 177.3 L267.0 177.4 L269.0 177.4 L271.0 177.4 L273.0 177.5 L275.0 177.6 L277.0 177.7 L279.0 177.8 L281.0 177.9 L283.0 178.0 L285.0 178.2 L287.0 178.3 L289.0 178.5 L291.0 178.7 L293.0 178.9 L295.0 179.1 L297.0 179.3 L299.0 179.6 L301.0 179.8 L303.0 180.1 L305.0 180.4 L307.0 180.7 L309.0 181.0 L311.0 181.3 L313.0 181.6 L315.0 182.0 L317.0 182.4 L319.0 182.7 L321.0 183.1 L323.0 183.6 L325.0 184.0 L327.0 184.5 L329.0 184.9 L331.0 185.4 L333.0 185.9 L335.0 186.5 L337.0 187.0 L339.0 187.6 L341.0 188.2 L343.0 188.8 L345.0 189.4 L347.0 190.0 L349.0 190.7 L351.0 191.4 L353.0 192.1 L355.0 192.9 L357.0 193.6 L359.0 194.4 L361.0 195.2 L363.0 196.0 L365.0 196.9 L367.0 197.7 L369.0 198.5 L371.0 199.4 L373.0 200.3 L375.0 201.1 L377.0 202.0 L379.0 202.9 L381.0 203.8 L383.0 204.6 L385.0 205.5 L387.0 206.3 L389.0 207.2 L391.0 208.0 L393.0 208.9 L395.0 209.7 L397.0 210.5 L399.0 211.3 L401.0 212.1 L403.0 212.8 L405.0 213.5 L407.0 214.3 L409.0 214.9 L411.0 215.6 L413.0 216.3 L415.0 216.9 L417.0 217.5 L419.0 218.1 L421.0 218.7 L423.0 219.2 L425.0 219.8 L427.0 220.3 L429.0 220.8 L431.0 221.3 L433.0 221.8 L435.0 222.2 L437.0 222.7 L439.0 223.1 L441.0 223.6 L443.0 224.1 L445.0 224.7 L447.0 225.3 L449.0 226.0 L451.0 226.7 L453.0 227.6 L455.0 228.5 L457.0 229.5 L459.0 230.5 L461.0 231.6 L463.0 232.7 L465.0 233.9 L467.0 235.1 L469.0 236.3 L471.0 237.5 L473.0 238.7 L475.0 239.9 L477.0 241.2 L479.0 242.4 L481.0 243.6 L483.0 244.7 L485.0 245.8 L487.0 246.9 L489.0 248.0 L491.0 249.1 L493.0 250.1 L495.0 251.1 L497.0 252.1 L499.0 253.1 L501.0 254.1 L503.0 255.0 L505.0 256.0 L507.0 256.9 L509.0 257.8 L511.0 258.8 L513.0 259.7 L515.0 260.6 L517.0 261.5 L519.0 262.4 L521.0 263.4 L523.0 264.3 L525.0 265.2 L527.0 266.1 L529.0 267.1 L531.0 268.0 L533.0 269.0 L535.0 270.0 L537.0 271.0 L539.0 272.0 L541.0 273.0 L543.0 274.0 L545.0 275.1 L547.0 276.1 L549.0 277.1 L551.0 278.2 L553.0 279.3 L555.0 280.3 L557.0 281.4 L559.0 282.4 L561.0 283.5 L563.0 284.5 L565.0 285.6 L567.0 286.7 L569.0 287.7 L571.0 288.7 L573.0 289.8 L575.0 290.8 L577.0 291.8 L579.0 292.8 L581.0 293.9 L583.0 294.8 L585.0 295.8 L587.0 296.8 L589.0 297.7 L591.0 298.7 L593.0 299.6 L595.0 300.6 L597.0 301.5 L599.0 302.4 L601.0 303.3 L603.0 304.2 L605.0 305.0 L607.0 305.9 L609.0 306.8 L611.0 307.6 L613.0 308.4 L615.0 309.3 L617.0 310.1 L619.0 310.9 L621.0 311.7 L623.0 312.5 L625.0 313.3 L627.0 314.1 L629.0 314.9 L631.0 315.7 L633.0 316.4 L635.0 317.2 L637.0 318.0 L639.0 318.7 L641.0 319.5 L643.0 320.2 L645.0 320.9 L647.0 321.7 L649.0 322.4 L651.0 323.1 L653.0 323.8 L655.0 324.6 L657.0 325.3 L659.0 326.0 L661.0 326.7 L663.0 327.4 L665.0 328.1 L667.0 328.8 L669.0 329.5 L671.0 330.2 L673.0 330.8 L675.0 331.5 L677.0 332.2 L679.0 332.9 L681.0 333.6 L683.0 334.2 L685.0 334.9 L687.0 335.6 L689.0 336.2 L691.0 336.9 L693.0 337.5 L695.0 338.2 L697.0 338.8 L699.0 339.5 L701.0 340.1 L703.0 340.7 L705.0 341.4 L707.0 342.0 L709.0 342.6 L711.0 343.2 L713.0 343.8 L715.0 344.4 L717.0 345.0 L719.0 345.6 L721.0 346.2 L723.0 346.8 L725.0 347.4 L727.0 348.0 L729.0 348.6 L731.0 349.2 L733.0 349.7 L735.0 350.3 L737.0 350.8 L739.0 351.4 L741.0 351.9 L743.0 352.5 L745.0 353.0 L747.0 353.6 L749.0 354.1 L751.0 354.6 L753.0 355.1 L755.0 355.7 L757.0 356.2 L759.0 356.7 L761.0 357.2 L763.0 357.7 L765.0 358.1 L767.0 358.6 L769.0 359.1 L771.0 359.6 L773.0 360.1 L775.0 360.5 L777.0 361.0 L779.0 361.5 L781.0 362.0 L783.0 362.4 L785.0 362.9 L787.0 363.4 L789.0 363.9 L791.0 364.4 L793.0 364.9 L795.0 365.4 L797.0 365.9 L799.0 366.4 L801.0 367.0 L803.0 367.5 L805.0 368.1 L807.0 368.6 L809.0 369.2 L811.0 369.8 L813.0 370.4 L815.0 371.0 L817.0 371.7 L819.0 372.3 L821.0 373.0 L823.0 373.7 L825.0 374.4 L827.0 375.1 L829.0 375.9 L831.0 376.7 L833.0 377.5 L835.0 378.3 L837.0 379.1 L839.0 380.0 L841.0 380.9 L842.0 381.3" fill="none" stroke="#0000ff" stroke-width="2.0" clip-path="url(#ct)"/>
<path d="M113.0 225.8 L115.0 225.0 L117.0 224.2 L119.0 223.4 L121.0 222.7 L123.0 221.9 L125.0 221.2 L127.0 220.5 L129.0 219.8 L131.0 219.1 L133.0 218.5 L135.0 217.8 L137.0 217.2 L139.0 216.6 L141.0 216.0 L143.0 215.4 L145.0 214.8 L147.0 214.2 L149.0 213.7 L151.0 213.1 L153.0 212.6 L155.0 212.1 L157.0 211.6 L159.0 211.1 L161.0 210.6 L163.0 210.2 L165.0 209.7 L167.0 209.3 L169.0 208.9 L171.0 208.5 L173.0 208.0 L175.0 207.7 L177.0 207.3 L179.0 206.9 L181.0 206.5 L183.0 206.2 L185.0 205.8 L187.0 205.5 L189.0 205.2 L191.0 204.9 L193.0 204.5 L195.0 204.2 L197.0 204.0 L199.0 203.7 L201.0 203.4 L203.0 203.1 L205.0 202.9 L207.0 202.6 L209.0 202.4 L211.0 202.1 L213.0 201.9 L215.0 201.7 L217.0 201.5 L219.0 201.3 L221.0 201.1 L223.0 200.9 L225.0 200.7 L227.0 200.5 L229.0 200.4 L231.0 200.2 L233.0 200.0 L235.0 199.9 L237.0 199.8 L239.0 199.7 L241.0 199.6 L243.0 199.5 L245.0 199.4 L247.0 199.3 L249.0 199.2 L251.0 199.2 L253.0 199.1 L255.0 199.1 L257.0 199.0 L259.0 199.0 L261.0 199.0 L263.0 199.0 L265.0 199.1 L267.0 199.1 L269.0 199.1 L271.0 199.2 L273.0 199.3 L275.0 199.3 L277.0 199.4 L279.0 199.6 L281.0 199.7 L283.0 199.8 L285.0 200.0 L287.0 200.1 L289.0 200.3 L291.0 200.5 L293.0 200.7 L295.0 200.9 L297.0 201.2 L299.0 201.4 L301.0 201.7 L303.0 202.0 L305.0 202.3 L307.0 202.6 L309.0 202.9 L311.0 203.2 L313.0 203.6 L315.0 204.0 L317.0 204.4 L319.0 204.8 L321.0 205.2 L323.0 205.6 L325.0 206.1 L327.0 206.6 L329.0 207.1 L331.0 207.6 L333.0 208.1 L335.0 208.7 L337.0 209.3 L339.0 209.9 L341.0 210.5 L343.0 211.1 L345.0 211.8 L347.0 212.5 L349.0 213.2 L351.0 213.9 L353.0 214.6 L355.0 215.4 L357.0 216.2 L359.0 216.9 L361.0 217.8 L363.0 218.6 L365.0 219.4 L367.0 220.3 L369.0 221.1 L371.0 222.0 L373.0 222.9 L375.0 223.8 L377.0 224.6 L379.0 225.5 L381.0 226.4 L383.0 227.3 L385.0 228.1 L387.0 229.0 L389.0 229.8 L391.0 230.7 L393.0 231.5 L395.0 232.3 L397.0 233.1 L399.0 233.9 L401.0 234.6 L403.0 235.4 L405.0 236.1 L407.0 236.8 L409.0 237.5 L411.0 238.1 L413.0 238.7 L415.0 239.4 L417.0 240.0 L419.0 240.6 L421.0 241.1 L423.0 241.7 L425.0 242.2 L427.0 242.8 L429.0 243.3 L431.0 243.8 L433.0 244.3 L435.0 244.8 L437.0 245.3 L439.0 245.8 L441.0 246.4 L443.0 246.9 L445.0 247.6 L447.0 248.2 L449.0 249.0 L451.0 249.8 L453.0 250.7 L455.0 251.7 L457.0 252.7 L459.0 253.8 L461.0 254.9 L463.0 256.1 L465.0 257.3 L467.0 258.5 L469.0 259.7 L471.0 261.0 L473.0 262.2 L475.0 263.5 L477.0 264.7 L479.0 265.9 L481.0 267.0 L483.0 268.2 L485.0 269.3 L487.0 270.4 L489.0 271.4 L491.0 272.4 L493.0 273.4 L495.0 274.4 L497.0 275.3 L499.0 276.3 L501.0 277.2 L503.0 278.1 L505.0 279.0 L507.0 279.9 L509.0 280.9 L511.0 281.8 L513.0 282.7 L515.0 283.6 L517.0 284.5 L519.0 285.4 L521.0 286.4 L523.0 287.3 L525.0 288.3 L527.0 289.3 L529.0 290.3 L531.0 291.4 L533.0 292.5 L535.0 293.6 L537.0 294.7 L539.0 295.9 L541.0 297.1 L543.0 298.3 L545.0 299.5 L547.0 300.7 L549.0 301.9 L551.0 303.2 L553.0 304.4 L555.0 305.6 L557.0 306.8 L559.0 308.0 L561.0 309.1 L563.0 310.3 L565.0 311.4 L567.0 312.5 L569.0 313.5 L571.0 314.6 L573.0 315.6 L575.0 316.6 L577.0 317.6 L579.0 318.5 L581.0 319.5 L583.0 320.5 L585.0 321.4 L587.0 322.4 L589.0 323.4 L591.0 324.3 L593.0 325.3 L595.0 326.3 L597.0 327.2 L599.0 328.2 L601.0 329.1 L603.0 330.1 L605.0 331.0 L607.0 332.0 L609.0 333.0 L611.0 333.9 L613.0 334.9 L615.0 335.8 L617.0 336.7 L619.0 337.7 L621.0 338.6 L623.0 339.6 L625.0 340.5 L627.0 341.4 L629.0 342.4 L631.0 343.3 L633.0 344.2 L635.0 345.2 L637.0 346.1 L639.0 347.0 L641.0 348.0 L643.0 348.9 L645.0 349.8 L647.0 350.7 L649.0 351.6 L651.0 352.5 L653.0 353.5 L655.0 354.4 L657.0 355.3 L659.0 356.2 L661.0 357.1 L663.0 358.0 L665.0 358.9 L667.0 359.8 L669.0 360.7 L671.0 361.6 L673.0 362.5 L675.0 363.3 L677.0 364.2 L679.0 365.1 L681.0 366.0 L683.0 366.9 L685.0 367.7 L687.0 368.6 L689.0 369.5 L691.0 370.3 L693.0 371.2 L695.0 372.0 L697.0 372.9 L699.0 373.8 L701.0 374.6 L703.0 375.4 L705.0 376.3 L707.0 377.1 L709.0 378.0 L711.0 378.8 L713.0 379.6 L715.0 380.4 L717.0 381.2 L719.0 382.1 L721.0 382.9 L723.0 383.7 L725.0 384.5 L727.0 385.3 L729.0 386.1 L731.0 386.9 L733.0 387.6 L735.0 388.4 L737.0 389.2 L739.0 390.0 L741.0 390.7 L743.0 391.5 L745.0 392.3 L747.0 393.0 L749.0 393.8 L751.0 394.5 L753.0 395.2 L755.0 396.0 L757.0 396.7 L759.0 397.4 L761.0 398.1 L763.0 398.9 L765.0 399.6 L767.0 400.3 L769.0 401.0 L771.0 401.7 L773.0 402.3 L775.0 403.0 L777.0 403.7 L779.0 404.4 L781.0 405.0 L783.0 405.7 L785.0 406.3 L787.0 407.0 L789.0 407.6 L791.0 408.2 L793.0 408.9 L795.0 409.5 L797.0 410.1 L799.0 410.7 L801.0 411.3 L803.0 411.9 L805.0 412.5 L807.0 413.1 L809.0 413.7 L811.0 414.2 L813.0 414.8 L815.0 415.3 L817.0 415.9 L819.0 416.4 L821.0 417.0 L823.0 417.5 L825.0 418.0 L827.0 418.5 L829.0 419.0 L831.0 419.5 L833.0 420.0 L835.0 420.5 L837.0 421.0 L839.0 421.4 L841.0 421.9 L842.0 422.1" fill="none" stroke="#0000ff" stroke-width="2.0" clip-path="url(#ct)"/>
<path d="M113.0 202.8 L115.0 202.2 L117.0 201.6 L119.0 201.0 L121.0 200.4 L123.0 199.8 L125.0 199.2 L127.0 198.6 L129.0 198.0 L131.0 197.4 L133.0 196.9 L135.0 196.3 L137.0 195.7 L139.0 195.2 L141.0 194.7 L143.0 194.1 L145.0 193.6 L147.0 193.1 L149.0 192.5 L151.0 192.0 L153.0 191.5 L155.0 191.0 L157.0 190.5 L159.0 190.1 L161.0 189.6 L163.0 189.1 L165.0 188.7 L167.0 188.2 L169.0 187.8 L171.0 187.3 L173.0 186.9 L175.0 186.5 L177.0 186.0 L179.0 185.6 L181.0 185.2 L183.0 184.9 L185.0 184.5 L187.0 184.1 L189.0 183.7 L191.0 183.4 L193.0 183.0 L195.0 182.7 L197.0 182.4 L199.0 182.0 L201.0 181.7 L203.0 181.4 L205.0 181.1 L207.0 180.8 L209.0 180.6 L211.0 180.3 L213.0 180.0 L215.0 179.8 L217.0 179.5 L219.0 179.3 L221.0 179.1 L223.0 178.9 L225.0 178.7 L227.0 178.5 L229.0 178.3 L231.0 178.1 L233.0 178.0 L235.0 177.8 L237.0 177.7 L239.0 177.6 L241.0 177.4 L243.0 177.3 L245.0 177.2 L247.0 177.1 L249.0 177.1 L251.0 177.0 L253.0 176.9 L255.0 176.9 L257.0 176.9 L259.0 176.8 L261.0 176.8 L263.0 176.8 L265.0 176.8 L267.0 176.9 L269.0 176.9 L271.0 177.0 L273.0 177.0 L275.0 177.1 L277.0 177.2 L279.0 177.3 L281.0 177.4 L283.0 177.5 L285.0 177.6 L287.0 177.8 L289.0 177.9 L291.0 178.1 L293.0 178.3 L295.0 178.5 L297.0 178.7 L299.0 178.9 L301.0 179.2 L303.0 179.5 L305.0 179.7 L307.0 180.0 L309.0 180.3 L311.0 180.6 L313.0 181.0 L315.0 181.3 L317.0 181.7 L319.0 182.1 L321.0 182.5 L323.0 182.9 L325.0 183.4 L327.0 183.8 L329.0 184.3 L331.0 184.8 L333.0 185.3 L335.0 185.8 L337.0 186.4 L339.0 186.9 L341.0 187.5 L343.0 188.1 L345.0 188.7 L347.0 189.4 L349.0 190.0 L351.0 190.7 L353.0 191.4 L355.0 192.1 L357.0 192.9 L359.0 193.6 L361.0 194.4 L363.0 195.2 L365.0 196.0 L367.0 196.8 L369.0 197.6 L371.0 198.5 L373.0 199.3 L375.0 200.1 L377.0 201.0 L379.0 201.8 L381.0 202.7 L383.0 203.5 L385.0 204.4 L387.0 205.2 L389.0 206.0 L391.0 206.9 L393.0 207.7 L395.0 208.5 L397.0 209.3 L399.0 210.0 L401.0 210.8 L403.0 211.5 L405.0 212.3 L407.0 213.0 L409.0 213.7 L411.0 214.3 L413.0 215.0 L415.0 215.7 L417.0 216.3 L419.0 216.9 L421.0 217.5 L423.0 218.1 L425.0 218.7 L427.0 219.3 L429.0 219.9 L431.0 220.4 L433.0 221.0 L435.0 221.5 L437.0 222.0 L439.0 222.6 L441.0 223.1 L443.0 223.7 L445.0 224.3 L447.0 225.0 L449.0 225.7 L451.0 226.4 L453.0 227.3 L455.0 228.1 L457.0 229.1 L459.0 230.0 L461.0 231.1 L463.0 232.2 L465.0 233.3 L467.0 234.5 L469.0 235.8 L471.0 237.1 L473.0 238.4 L475.0 239.7 L477.0 241.0 L479.0 242.4 L481.0 243.7 L483.0 245.0 L485.0 246.3 L487.0 247.6 L489.0 248.9 L491.0 250.1 L493.0 251.3 L495.0 252.4 L497.0 253.5 L499.0 254.6 L501.0 255.6 L503.0 256.5 L505.0 257.4 L507.0 258.2 L509.0 259.1 L511.0 259.9 L513.0 260.8 L515.0 261.6 L517.0 262.5 L519.0 263.4 L521.0 264.4 L523.0 265.4 L525.0 266.4 L527.0 267.4 L529.0 268.5 L531.0 269.6 L533.0 270.7 L535.0 271.9 L537.0 273.0 L539.0 274.2 L541.0 275.4 L543.0 276.6 L545.0 277.9 L547.0 279.1 L549.0 280.3 L551.0 281.6 L553.0 282.9 L555.0 284.1 L557.0 285.4 L559.0 286.7 L561.0 288.0 L563.0 289.3 L565.0 290.6 L567.0 291.8 L569.0 293.1 L571.0 294.4 L573.0 295.6 L575.0 296.9 L577.0 298.2 L579.0 299.5 L581.0 300.7 L583.0 302.0 L585.0 303.3 L587.0 304.6 L589.0 305.9 L591.0 307.2 L593.0 308.5 L595.0 309.9 L597.0 311.2 L599.0 312.6 L601.0 313.9 L603.0 315.3 L605.0 316.7 L607.0 318.1 L609.0 319.5 L611.0 320.9 L613.0 322.4 L615.0 323.8 L617.0 325.3 L619.0 326.8 L621.0 328.2 L623.0 329.7 L625.0 331.3 L627.0 332.8 L629.0 334.3 L631.0 335.8 L633.0 337.4 L635.0 339.0 L637.0 340.5 L639.0 342.1 L641.0 343.7 L643.0 345.3 L645.0 346.9 L647.0 348.5 L649.0 350.2 L651.0 351.8 L653.0 353.5 L655.0 355.1 L657.0 356.8 L659.0 358.5 L661.0 360.2 L663.0 361.9 L665.0 363.6 L667.0 365.3 L669.0 367.0 L671.0 368.8 L673.0 370.5 L675.0 372.3 L677.0 374.1 L679.0 376.0 L681.0 377.9 L683.0 379.8 L685.0 381.8 L687.0 383.8 L689.0 385.9 L691.0 388.0 L693.0 390.2 L695.0 392.5 L697.0 394.8 L699.0 397.3 L701.0 399.7 L703.0 402.3 L705.0 405.0 L707.0 407.8 L709.0 410.6 L711.0 413.6 L713.0 416.8 L715.0 420.1 L717.0 423.6 L719.0 427.3 L721.0 431.3 L723.0 435.5 L723.6 436.8" fill="none" stroke="#ff0000" stroke-width="2.0" stroke-dasharray="12 7.5 2.5 7.5" stroke-dashoffset="23.6" clip-path="url(#ct)"/>
<path d="M113.0 226.3 L115.0 225.6 L117.0 224.9 L119.0 224.2 L121.0 223.5 L123.0 222.8 L125.0 222.1 L127.0 221.4 L129.0 220.8 L131.0 220.1 L133.0 219.5 L135.0 218.9 L137.0 218.2 L139.0 217.6 L141.0 217.0 L143.0 216.5 L145.0 215.9 L147.0 215.3 L149.0 214.8 L151.0 214.2 L153.0 213.7 L155.0 213.2 L157.0 212.6 L159.0 212.1 L161.0 211.6 L163.0 211.2 L165.0 210.7 L167.0 210.2 L169.0 209.8 L171.0 209.3 L173.0 208.9 L175.0 208.5 L177.0 208.1 L179.0 207.7 L181.0 207.3 L183.0 206.9 L185.0 206.5 L187.0 206.2 L189.0 205.8 L191.0 205.5 L193.0 205.1 L195.0 204.8 L197.0 204.5 L199.0 204.2 L201.0 203.9 L203.0 203.6 L205.0 203.4 L207.0 203.1 L209.0 202.9 L211.0 202.6 L213.0 202.4 L215.0 202.2 L217.0 202.0 L219.0 201.8 L221.0 201.6 L223.0 201.4 L225.0 201.3 L227.0 201.1 L229.0 201.0 L231.0 200.8 L233.0 200.7 L235.0 200.6 L237.0 200.5 L239.0 200.4 L241.0 200.3 L243.0 200.2 L245.0 200.2 L247.0 200.1 L249.0 200.1 L251.0 200.0 L253.0 200.0 L255.0 200.0 L257.0 200.0 L259.0 200.0 L261.0 200.0 L263.0 200.0 L265.0 200.1 L267.0 200.1 L269.0 200.2 L271.0 200.2 L273.0 200.3 L275.0 200.4 L277.0 200.5 L279.0 200.6 L281.0 200.7 L283.0 200.9 L285.0 201.0 L287.0 201.2 L289.0 201.3 L291.0 201.5 L293.0 201.7 L295.0 201.9 L297.0 202.1 L299.0 202.4 L301.0 202.6 L303.0 202.9 L305.0 203.2 L307.0 203.4 L309.0 203.8 L311.0 204.1 L313.0 204.4 L315.0 204.8 L317.0 205.2 L319.0 205.6 L321.0 206.0 L323.0 206.4 L325.0 206.8 L327.0 207.3 L329.0 207.8 L331.0 208.3 L333.0 208.8 L335.0 209.4 L337.0 209.9 L339.0 210.5 L341.0 211.1 L343.0 211.8 L345.0 212.4 L347.0 213.1 L349.0 213.8 L351.0 214.5 L353.0 215.2 L355.0 216.0 L357.0 216.8 L359.0 217.6 L361.0 218.4 L363.0 219.2 L365.0 220.1 L367.0 220.9 L369.0 221.8 L371.0 222.7 L373.0 223.6 L375.0 224.5 L377.0 225.4 L379.0 226.3 L381.0 227.1 L383.0 228.0 L385.0 228.9 L387.0 229.8 L389.0 230.6 L391.0 231.5 L393.0 232.3 L395.0 233.2 L397.0 234.0 L399.0 234.8 L401.0 235.5 L403.0 236.3 L405.0 237.0 L407.0 237.7 L409.0 238.4 L411.0 239.0 L413.0 239.7 L415.0 240.3 L417.0 240.9 L419.0 241.5 L421.0 242.1 L423.0 242.7 L425.0 243.3 L427.0 243.8 L429.0 244.4 L431.0 244.9 L433.0 245.5 L435.0 246.0 L437.0 246.5 L439.0 247.1 L441.0 247.6 L443.0 248.2 L445.0 248.8 L447.0 249.4 L449.0 250.1 L451.0 250.8 L453.0 251.6 L455.0 252.4 L457.0 253.3 L459.0 254.3 L461.0 255.4 L463.0 256.5 L465.0 257.7 L467.0 259.0 L469.0 260.4 L471.0 261.9 L473.0 263.4 L475.0 264.8 L477.0 266.3 L479.0 267.7 L481.0 269.1 L483.0 270.4 L485.0 271.6 L487.0 272.7 L489.0 273.8 L491.0 274.8 L493.0 275.7 L495.0 276.7 L497.0 277.6 L499.0 278.4 L501.0 279.2 L503.0 280.1 L505.0 280.9 L507.0 281.7 L509.0 282.6 L511.0 283.4 L513.0 284.3 L515.0 285.2 L517.0 286.2 L519.0 287.2 L521.0 288.2 L523.0 289.3 L525.0 290.4 L527.0 291.5 L529.0 292.7 L531.0 293.9 L533.0 295.1 L535.0 296.4 L537.0 297.6 L539.0 298.9 L541.0 300.2 L543.0 301.5 L545.0 302.9 L547.0 304.2 L549.0 305.5 L551.0 306.9 L553.0 308.2 L555.0 309.5 L557.0 310.9 L559.0 312.2 L561.0 313.5 L563.0 314.8 L565.0 316.0 L567.0 317.3 L569.0 318.5 L571.0 319.8 L573.0 321.0 L575.0 322.2 L577.0 323.4 L579.0 324.6 L581.0 325.9 L583.0 327.1 L585.0 328.3 L587.0 329.6 L589.0 330.9 L591.0 332.2 L593.0 333.5 L595.0 334.9 L597.0 336.3 L599.0 337.7 L601.0 339.2 L603.0 340.6 L605.0 342.1 L607.0 343.5 L609.0 344.9 L611.0 346.2 L613.0 347.4 L615.0 348.6 L617.0 349.6 L619.0 350.6 L621.0 351.7 L623.0 352.8 L625.0 354.0 L627.0 355.3 L629.0 356.6 L631.0 357.9 L633.0 359.3 L635.0 360.7 L637.0 362.2 L639.0 363.6 L641.0 365.1 L643.0 366.6 L645.0 368.1 L647.0 369.6 L649.0 371.1 L651.0 372.6 L653.0 374.1 L655.0 375.7 L657.0 377.2 L659.0 378.8 L661.0 380.4 L663.0 382.0 L665.0 383.7 L667.0 385.3 L669.0 387.0 L671.0 388.7 L673.0 390.5 L675.0 392.2 L677.0 394.0 L679.0 395.7 L681.0 397.5 L683.0 399.4 L685.0 401.2 L687.0 403.0 L689.0 404.9 L691.0 406.8 L693.0 408.7 L695.0 410.6 L697.0 412.5 L699.0 414.4 L701.0 416.4 L703.0 418.3 L705.0 420.3 L707.0 422.3 L709.0 424.3 L711.0 426.3 L713.0 428.3 L715.0 430.3 L717.0 432.3 L719.0 434.3 L721.0 436.4 L721.2 436.6" fill="none" stroke="#ff0000" stroke-width="2.0" stroke-dasharray="12 7.5 2.5 7.5" stroke-dashoffset="22.4" clip-path="url(#ct)"/>
<path d="M741.0 356.5 L743.0 356.8 L745.0 357.1 L747.0 357.4 L749.0 357.7 L751.0 358.0 L753.0 358.3 L755.0 358.6 L757.0 358.9 L759.0 359.2 L761.0 359.5 L763.0 359.8 L765.0 360.1 L767.0 360.4 L769.0 360.7 L771.0 361.0 L773.0 361.3 L775.0 361.7 L777.0 362.0 L779.0 362.3 L781.0 362.7 L783.0 363.1 L785.0 363.4 L787.0 363.8 L789.0 364.2 L791.0 364.6 L793.0 365.1 L795.0 365.5 L797.0 365.9 L799.0 366.4 L801.0 366.9 L803.0 367.4 L805.0 367.9 L807.0 368.4 L809.0 369.0 L811.0 369.5 L813.0 370.1 L815.0 370.7 L817.0 371.3 L819.0 371.9 L821.0 372.6 L823.0 373.3 L825.0 374.0 L827.0 374.8 L829.0 375.6 L831.0 376.4 L833.0 377.2 L835.0 378.2 L837.0 379.1 L839.0 380.1 L841.0 381.1 L842.0 381.6" fill="none" stroke="#00ff00" stroke-width="2.0" stroke-dasharray="12 7.5 2.5 7.5" stroke-dashoffset="24.0" clip-path="url(#ct)"/>
<path d="M761.0 406.8 L763.0 407.1 L765.0 407.3 L767.0 407.6 L769.0 407.8 L771.0 408.1 L773.0 408.4 L775.0 408.7 L777.0 409.0 L779.0 409.3 L781.0 409.6 L783.0 409.9 L785.0 410.3 L787.0 410.6 L789.0 410.9 L791.0 411.2 L793.0 411.6 L795.0 411.9 L797.0 412.3 L799.0 412.6 L801.0 413.0 L803.0 413.4 L805.0 413.8 L807.0 414.1 L809.0 414.5 L811.0 414.9 L813.0 415.3 L815.0 415.7 L817.0 416.1 L819.0 416.5 L821.0 416.9 L823.0 417.4 L825.0 417.8 L827.0 418.3 L829.0 418.7 L831.0 419.2 L833.0 419.8 L835.0 420.3 L837.0 420.8 L839.0 421.4 L841.0 422.0 L842.0 422.3" fill="none" stroke="#00ff00" stroke-width="2.0" stroke-dasharray="12 7.5 2.5 7.5" stroke-dashoffset="22.1" clip-path="url(#ct)"/>
<path d="M113.0 200.7 L115.0 200.0 L117.0 199.4 L119.0 198.8 L121.0 198.2 L123.0 197.5 L125.0 196.9 L127.0 196.4 L129.0 195.8 L131.0 195.2 L133.0 194.6 L135.0 194.1 L137.0 193.5 L139.0 193.0 L141.0 192.5 L143.0 191.9 L145.0 191.4 L147.0 190.9 L149.0 190.4 L151.0 189.9 L153.0 189.4 L155.0 189.0 L157.0 188.5 L159.0 188.1 L161.0 187.6 L163.0 187.2 L165.0 186.8 L167.0 186.3 L169.0 185.9 L171.0 185.5 L173.0 185.1 L175.0 184.7 L177.0 184.4 L179.0 184.0 L181.0 183.6 L183.0 183.3 L185.0 182.9 L187.0 182.6 L189.0 182.3 L191.0 181.9 L193.0 181.6 L195.0 181.3 L197.0 181.0 L199.0 180.7 L201.0 180.5 L203.0 180.2 L205.0 179.9 L207.0 179.7 L209.0 179.4 L211.0 179.2 L213.0 178.9 L215.0 178.7 L217.0 178.5 L219.0 178.3 L221.0 178.1 L223.0 177.9 L225.0 177.7 L227.0 177.6 L229.0 177.4 L231.0 177.2 L233.0 177.1 L235.0 177.0 L237.0 176.8 L239.0 176.7 L241.0 176.6 L243.0 176.5 L245.0 176.4 L247.0 176.4 L249.0 176.3 L251.0 176.2 L253.0 176.2 L255.0 176.2 L257.0 176.1 L259.0 176.1 L261.0 176.1 L263.0 176.1 L265.0 176.1 L267.0 176.2 L269.0 176.2 L271.0 176.2 L273.0 176.3 L275.0 176.4 L277.0 176.5 L279.0 176.6 L281.0 176.7 L283.0 176.8 L285.0 176.9 L287.0 177.1 L289.0 177.2 L291.0 177.4 L293.0 177.6 L295.0 177.8 L297.0 178.0 L299.0 178.2 L301.0 178.4 L303.0 178.6 L305.0 178.9 L307.0 179.2 L309.0 179.5 L311.0 179.7 L313.0 180.1 L315.0 180.4 L317.0 180.7 L319.0 181.1 L321.0 181.5 L323.0 181.8 L325.0 182.2 L327.0 182.7 L329.0 183.1 L331.0 183.6 L333.0 184.0 L335.0 184.5 L337.0 185.0 L339.0 185.6 L341.0 186.1 L343.0 186.7 L345.0 187.3 L347.0 187.9 L349.0 188.5 L351.0 189.2 L353.0 189.8 L355.0 190.5 L357.0 191.2 L359.0 192.0 L361.0 192.7 L363.0 193.5 L365.0 194.3 L367.0 195.1 L369.0 195.9 L371.0 196.7 L373.0 197.5 L375.0 198.3 L377.0 199.1 L379.0 200.0 L381.0 200.8 L383.0 201.6 L385.0 202.4 L387.0 203.2 L389.0 204.0 L391.0 204.8 L393.0 205.6 L395.0 206.4 L397.0 207.1 L399.0 207.8 L401.0 208.6 L403.0 209.3 L405.0 209.9 L407.0 210.6 L409.0 211.2 L411.0 211.9 L413.0 212.5 L415.0 213.0 L417.0 213.6 L419.0 214.2 L421.0 214.7 L423.0 215.2 L425.0 215.8 L427.0 216.3 L429.0 216.8 L431.0 217.2 L433.0 217.7 L435.0 218.2 L437.0 218.6 L439.0 219.1 L441.0 219.6 L443.0 220.1 L445.0 220.7 L447.0 221.3 L449.0 222.0 L451.0 222.8 L453.0 223.6 L455.0 224.5 L457.0 225.5 L459.0 226.5 L461.0 227.6 L463.0 228.7 L465.0 229.8 L467.0 230.9 L469.0 232.1 L471.0 233.3 L473.0 234.5 L475.0 235.7 L477.0 236.8 L479.0 238.0 L481.0 239.1 L483.0 240.2 L485.0 241.3 L487.0 242.3 L489.0 243.4 L491.0 244.4 L493.0 245.3 L495.0 246.3 L497.0 247.2 L499.0 248.2 L501.0 249.1 L503.0 250.0 L505.0 250.8 L507.0 251.7 L509.0 252.6 L511.0 253.5 L513.0 254.3 L515.0 255.2 L517.0 256.1 L519.0 256.9 L521.0 257.8 L523.0 258.7 L525.0 259.6 L527.0 260.5 L529.0 261.4 L531.0 262.3 L533.0 263.2 L535.0 264.2 L537.0 265.2 L539.0 266.2 L541.0 267.2 L543.0 268.2 L545.0 269.2 L547.0 270.2 L549.0 271.2 L551.0 272.2 L553.0 273.3 L555.0 274.3 L557.0 275.3 L559.0 276.3 L561.0 277.3 L563.0 278.3 L565.0 279.3 L567.0 280.3 L569.0 281.3 L571.0 282.2 L573.0 283.2 L575.0 284.1 L577.0 285.1 L579.0 286.0 L581.0 286.9 L583.0 287.9 L585.0 288.8 L587.0 289.7 L589.0 290.6 L591.0 291.6 L593.0 292.5 L595.0 293.4 L597.0 294.3 L599.0 295.2 L601.0 296.1 L603.0 297.0 L605.0 298.0 L607.0 298.9 L609.0 299.8 L611.0 300.7 L613.0 301.6 L615.0 302.5 L617.0 303.4 L619.0 304.2 L621.0 305.1 L623.0 306.0 L625.0 306.9 L627.0 307.8 L629.0 308.7 L631.0 309.6 L633.0 310.4 L635.0 311.3 L637.0 312.2 L639.0 313.0 L641.0 313.9 L643.0 314.8 L645.0 315.6 L647.0 316.5 L649.0 317.3 L651.0 318.2 L653.0 319.0 L655.0 319.9 L657.0 320.7 L659.0 321.5 L661.0 322.4 L663.0 323.2 L665.0 324.0 L667.0 324.9 L669.0 325.7 L671.0 326.5 L673.0 327.3 L675.0 328.1 L677.0 328.9 L679.0 329.7 L681.0 330.6 L683.0 331.4 L685.0 332.1 L687.0 332.9 L689.0 333.7 L691.0 334.5 L693.0 335.3 L695.0 336.1 L697.0 336.9 L699.0 337.6 L701.0 338.4 L703.0 339.2 L705.0 339.9 L707.0 340.7 L709.0 341.5 L711.0 342.2 L713.0 343.0 L715.0 343.7 L717.0 344.5 L719.0 345.2 L721.0 345.9 L723.0 346.7 L725.0 347.4 L727.0 348.1 L729.0 348.9 L731.0 349.6 L733.0 350.3 L735.0 351.0 L737.0 351.8 L739.0 352.5 L741.0 353.2 L743.0 353.9 L745.0 354.6 L747.0 355.3 L749.0 356.0 L751.0 356.7 L753.0 357.4 L755.0 358.1 L757.0 358.8 L759.0 359.4 L761.0 360.1 L763.0 360.8 L765.0 361.5 L767.0 362.1 L769.0 362.8 L771.0 363.5 L773.0 364.1 L775.0 364.8 L777.0 365.5 L779.0 366.1 L781.0 366.8 L783.0 367.4 L785.0 368.1 L787.0 368.7 L789.0 369.3 L791.0 370.0 L793.0 370.6 L795.0 371.2 L797.0 371.9 L799.0 372.5 L801.0 373.1 L803.0 373.7 L805.0 374.4 L807.0 375.0 L809.0 375.6 L811.0 376.2 L813.0 376.8 L815.0 377.4 L817.0 378.0 L819.0 378.6 L821.0 379.2 L823.0 379.8 L825.0 380.4 L827.0 381.0 L829.0 381.5 L831.0 382.1 L833.0 382.7 L835.0 383.3 L837.0 383.8 L839.0 384.4 L841.0 385.0 L842.0 385.3" fill="none" stroke="#0000ff" stroke-width="2.0" stroke-dasharray="12 7.5 2.5 7.5" stroke-dashoffset="7.6" clip-path="url(#ct)"/>
<path d="M113.0 225.1 L115.0 224.3 L117.0 223.5 L119.0 222.7 L121.0 222.0 L123.0 221.2 L125.0 220.5 L127.0 219.8 L129.0 219.1 L131.0 218.4 L133.0 217.8 L135.0 217.1 L137.0 216.5 L139.0 215.9 L141.0 215.3 L143.0 214.7 L145.0 214.1 L147.0 213.5 L149.0 213.0 L151.0 212.4 L153.0 211.9 L155.0 211.4 L157.0 210.9 L159.0 210.4 L161.0 209.9 L163.0 209.5 L165.0 209.0 L167.0 208.6 L169.0 208.2 L171.0 207.8 L173.0 207.3 L175.0 207.0 L177.0 206.6 L179.0 206.2 L181.0 205.8 L183.0 205.5 L185.0 205.1 L187.0 204.8 L189.0 204.5 L191.0 204.2 L193.0 203.8 L195.0 203.5 L197.0 203.3 L199.0 203.0 L201.0 202.7 L203.0 202.4 L205.0 202.2 L207.0 201.9 L209.0 201.7 L211.0 201.4 L213.0 201.2 L215.0 201.0 L217.0 200.8 L219.0 200.6 L221.0 200.4 L223.0 200.2 L225.0 200.0 L227.0 199.8 L229.0 199.7 L231.0 199.5 L233.0 199.4 L235.0 199.2 L237.0 199.1 L239.0 199.0 L241.0 198.9 L243.0 198.8 L245.0 198.7 L247.0 198.6 L249.0 198.5 L251.0 198.4 L253.0 198.4 L255.0 198.4 L257.0 198.3 L259.0 198.3 L261.0 198.3 L263.0 198.3 L265.0 198.3 L267.0 198.3 L269.0 198.4 L271.0 198.4 L273.0 198.5 L275.0 198.6 L277.0 198.7 L279.0 198.8 L281.0 198.9 L283.0 199.0 L285.0 199.1 L287.0 199.3 L289.0 199.5 L291.0 199.6 L293.0 199.8 L295.0 200.1 L297.0 200.3 L299.0 200.5 L301.0 200.8 L303.0 201.0 L305.0 201.3 L307.0 201.6 L309.0 201.9 L311.0 202.2 L313.0 202.6 L315.0 202.9 L317.0 203.3 L319.0 203.7 L321.0 204.1 L323.0 204.5 L325.0 205.0 L327.0 205.4 L329.0 205.9 L331.0 206.4 L333.0 206.9 L335.0 207.5 L337.0 208.0 L339.0 208.6 L341.0 209.2 L343.0 209.8 L345.0 210.4 L347.0 211.1 L349.0 211.7 L351.0 212.4 L353.0 213.2 L355.0 213.9 L357.0 214.6 L359.0 215.4 L361.0 216.2 L363.0 217.0 L365.0 217.8 L367.0 218.7 L369.0 219.5 L371.0 220.3 L373.0 221.2 L375.0 222.1 L377.0 222.9 L379.0 223.8 L381.0 224.6 L383.0 225.5 L385.0 226.4 L387.0 227.2 L389.0 228.1 L391.0 228.9 L393.0 229.7 L395.0 230.5 L397.0 231.3 L399.0 232.1 L401.0 232.9 L403.0 233.6 L405.0 234.4 L407.0 235.1 L409.0 235.8 L411.0 236.5 L413.0 237.1 L415.0 237.8 L417.0 238.4 L419.0 239.0 L421.0 239.6 L423.0 240.2 L425.0 240.7 L427.0 241.2 L429.0 241.8 L431.0 242.3 L433.0 242.8 L435.0 243.2 L437.0 243.7 L439.0 244.2 L441.0 244.7 L443.0 245.2 L445.0 245.8 L447.0 246.5 L449.0 247.2 L451.0 248.0 L453.0 248.9 L455.0 249.9 L457.0 251.0 L459.0 252.1 L461.0 253.3 L463.0 254.5 L465.0 255.7 L467.0 257.0 L469.0 258.3 L471.0 259.6 L473.0 260.9 L475.0 262.2 L477.0 263.5 L479.0 264.7 L481.0 266.0 L483.0 267.1 L485.0 268.3 L487.0 269.4 L489.0 270.5 L491.0 271.5 L493.0 272.6 L495.0 273.5 L497.0 274.5 L499.0 275.5 L501.0 276.4 L503.0 277.3 L505.0 278.1 L507.0 279.0 L509.0 279.8 L511.0 280.7 L513.0 281.5 L515.0 282.3 L517.0 283.1 L519.0 283.9 L521.0 284.7 L523.0 285.5 L525.0 286.4 L527.0 287.2 L529.0 288.1 L531.0 289.0 L533.0 289.9 L535.0 290.9 L537.0 292.0 L539.0 293.0 L541.0 294.1 L543.0 295.2 L545.0 296.4 L547.0 297.5 L549.0 298.7 L551.0 299.9 L553.0 301.0 L555.0 302.2 L557.0 303.4 L559.0 304.5 L561.0 305.7 L563.0 306.8 L565.0 307.9 L567.0 309.0 L569.0 310.0 L571.0 311.1 L573.0 312.1 L575.0 313.1 L577.0 314.0 L579.0 315.0 L581.0 316.0 L583.0 316.9 L585.0 317.9 L587.0 318.8 L589.0 319.7 L591.0 320.7 L593.0 321.6 L595.0 322.6 L597.0 323.5 L599.0 324.4 L601.0 325.4 L603.0 326.3 L605.0 327.2 L607.0 328.2 L609.0 329.1 L611.0 330.1 L613.0 331.0 L615.0 332.0 L617.0 333.0 L619.0 333.9 L621.0 334.9 L623.0 335.9 L625.0 336.9 L627.0 337.9 L629.0 338.9 L631.0 340.0 L633.0 341.0 L635.0 342.1 L637.0 343.1 L639.0 344.2 L641.0 345.3 L643.0 346.3 L645.0 347.4 L647.0 348.5 L649.0 349.6 L651.0 350.6 L653.0 351.7 L655.0 352.8 L657.0 353.8 L659.0 354.9 L661.0 355.9 L663.0 356.9 L665.0 357.9 L667.0 358.9 L669.0 359.9 L671.0 360.9 L673.0 361.9 L675.0 362.9 L677.0 363.8 L679.0 364.8 L681.0 365.7 L683.0 366.6 L685.0 367.6 L687.0 368.5 L689.0 369.4 L691.0 370.3 L693.0 371.2 L695.0 372.1 L697.0 373.0 L699.0 373.9 L701.0 374.8 L703.0 375.7 L705.0 376.6 L707.0 377.5 L709.0 378.4 L711.0 379.2 L713.0 380.1 L715.0 381.0 L717.0 381.9 L719.0 382.8 L721.0 383.7 L723.0 384.6 L725.0 385.5 L727.0 386.4 L729.0 387.4 L731.0 388.3 L733.0 389.3 L735.0 390.3 L737.0 391.3 L739.0 392.3 L741.0 393.3 L743.0 394.3 L745.0 395.4 L747.0 396.3 L749.0 397.3 L751.0 398.3 L753.0 399.2 L755.0 400.1 L757.0 401.0 L759.0 401.9 L761.0 402.8 L763.0 403.7 L765.0 404.6 L767.0 405.4 L769.0 406.3 L771.0 407.1 L773.0 407.9 L775.0 408.8 L777.0 409.6 L779.0 410.4 L781.0 411.1 L783.0 411.9 L785.0 412.7 L787.0 413.4 L789.0 414.1 L791.0 414.9 L793.0 415.6 L795.0 416.3 L797.0 417.0 L799.0 417.6 L801.0 418.3 L803.0 418.9 L805.0 419.5 L807.0 420.2 L809.0 420.8 L811.0 421.3 L813.0 421.9 L815.0 422.4 L817.0 423.0 L819.0 423.5 L821.0 424.0 L823.0 424.5 L825.0 425.0 L827.0 425.4 L829.0 425.8 L831.0 426.2 L833.0 426.6 L835.0 427.0 L837.0 427.4 L839.0 427.7 L841.0 428.1 L842.0 428.2" fill="none" stroke="#0000ff" stroke-width="2.0" stroke-dasharray="12 7.5 2.5 7.5" stroke-dashoffset="14.8" clip-path="url(#ct)"/>
<path d="M113.0 492.7 H841.9" stroke="#000" stroke-width="2.0" fill="none"/>
<path d="M113.0 478.7 H841.9" stroke="#000" stroke-width="2.0" fill="none" stroke-dasharray="14.6 12.4"/>
<path d="M113.0 506.8 H841.9" stroke="#000" stroke-width="2.0" fill="none" stroke-dasharray="14.6 12.4"/>
<path d="M268.4 513.2 L270.4 513.2 L272.4 513.2 L274.4 513.3 L276.4 513.3 L278.4 513.4 L280.4 513.4 L282.4 513.5 L284.4 513.6 L286.4 513.7 L288.4 513.7 L290.4 513.8 L292.4 513.9 L294.4 514.0 L296.4 514.2 L298.4 514.4 L300.4 514.6 L302.4 514.8 L304.4 515.0 L306.4 515.2 L308.4 515.4 L310.4 515.6 L312.4 515.8 L314.4 516.0 L316.4 516.1 L318.4 516.2 L320.4 516.2 L322.4 516.3 L324.4 516.4 L326.4 516.4 L328.4 516.5 L330.4 516.6 L332.4 516.6 L334.4 516.7 L336.4 516.7 L338.4 516.8 L340.4 516.8 L342.4 516.8 L344.4 516.9 L346.4 516.9 L348.4 516.9 L350.4 516.9 L352.4 516.9 L354.4 516.9 L356.4 516.9 L358.4 516.9 L360.4 516.9 L362.4 516.9 L364.4 516.9 L366.4 516.9 L368.4 516.9 L370.4 516.9 L372.4 516.9 L374.4 516.9 L376.4 516.9 L378.4 516.9 L380.4 516.9 L382.4 516.9 L384.4 516.9 L386.4 517.0 L388.4 517.1 L390.4 517.2 L392.4 517.4 L394.4 517.7 L396.4 517.9 L398.4 518.1 L400.4 518.2 L402.4 518.4 L404.4 518.6 L406.4 518.8 L408.4 519.0 L410.4 519.1 L412.4 519.3 L414.4 519.4 L416.4 519.4 L418.4 519.4 L420.4 519.3 L422.4 519.1 L424.4 518.9 L426.4 518.8 L428.4 518.6 L430.4 518.6 L432.4 518.7 L434.4 518.9 L436.4 519.2 L438.4 519.6 L440.4 520.0 L442.4 520.4 L444.4 520.9 L446.4 521.6 L448.4 522.4 L450.4 523.3 L452.4 524.2 L454.4 525.0 L456.4 525.8 L458.4 526.4 L460.4 526.8 L462.4 527.0 L464.4 527.0 L466.4 526.9 L468.4 526.7 L470.4 526.5 L472.4 526.3 L474.4 526.0 L476.4 525.6 L478.4 525.0 L480.4 524.4 L482.4 523.9 L484.4 523.6 L486.4 523.6 L488.4 523.6 L490.4 523.6 L492.4 523.6 L494.4 523.6 L496.4 523.6 L498.4 523.7 L500.4 523.9 L502.4 524.1 L504.4 524.4 L506.4 524.7 L508.4 525.1 L510.4 525.5 L512.4 526.0 L514.4 526.4 L516.4 526.8 L518.4 527.2 L520.4 527.7 L522.4 528.3 L524.4 528.9 L526.4 529.6 L528.4 530.2 L530.4 530.8 L532.4 531.3 L534.4 531.8 L536.4 532.2 L538.4 532.6 L540.4 533.0 L542.4 533.4 L544.4 533.8 L546.4 534.1 L548.4 534.4 L550.4 534.6 L552.4 534.8 L554.4 535.1 L556.4 535.3 L558.4 535.4 L560.4 535.5 L562.4 535.5 L564.4 535.4 L566.4 535.3 L568.4 535.2 L570.4 535.1 L572.4 535.2 L574.4 535.6 L576.4 536.3 L578.4 537.1 L580.4 537.9 L582.4 538.5 L584.4 539.0 L586.4 539.6 L588.4 540.2 L590.4 540.7 L592.4 541.1 L594.4 541.4 L596.4 541.6 L598.4 541.8 L600.4 542.0 L602.4 542.2 L604.4 542.5 L606.4 542.8 L608.4 543.2 L610.4 543.7 L612.4 544.2 L614.4 544.6 L616.4 545.1 L618.4 545.6 L620.4 546.2 L622.4 546.7 L624.4 547.2 L626.4 547.6 L628.4 547.9 L630.4 548.2 L632.4 548.5 L634.4 548.7 L636.4 549.0 L638.4 549.3 L640.4 549.6 L642.4 549.9 L644.4 550.2 L646.4 550.6 L648.4 550.9 L650.4 551.2 L652.4 551.4 L654.4 551.6 L656.4 551.8 L658.4 552.0 L660.4 552.1 L662.4 552.2 L664.4 552.3 L666.4 552.5 L668.4 552.6 L670.4 552.7 L672.4 552.7 L674.4 552.8 L676.4 552.9 L678.4 553.0 L680.4 553.1 L682.4 553.2 L684.4 553.4 L686.4 553.6 L688.4 553.7 L690.4 553.9 L692.4 554.2 L694.4 554.4 L696.4 554.7 L698.4 554.9 L700.4 555.2 L702.4 555.5 L704.4 555.8 L706.4 556.0 L708.4 556.3 L710.4 556.6 L712.4 556.8 L714.4 557.1 L716.4 557.4 L718.4 557.6 L720.4 557.9 L722.4 558.2 L724.4 558.4 L726.4 558.7 L728.4 558.9 L730.4 559.1 L732.4 559.3 L734.4 559.6 L736.4 559.8 L738.4 560.1 L740.4 560.3 L742.4 560.6 L744.4 560.9 L746.4 561.1 L748.4 561.4 L750.4 561.7 L752.4 562.0 L754.4 562.4 L756.4 562.7 L758.4 563.0 L760.4 563.4 L762.4 563.8 L764.4 564.2 L766.4 564.6 L768.4 565.0 L770.4 565.5 L772.4 565.9 L774.4 566.3 L776.4 566.8 L778.4 567.2 L780.4 567.6 L782.4 568.1 L784.4 568.5 L786.4 569.0 L788.4 569.5 L790.4 570.0 L792.4 570.5 L794.4 571.0 L796.4 571.5 L798.4 572.0 L800.4 572.5 L802.4 573.1 L804.4 573.7 L806.4 574.3 L808.4 575.0 L810.4 575.7 L812.4 576.4 L814.4 577.2 L816.4 578.0 L818.4 578.8 L820.4 579.7 L822.4 580.6 L824.4 581.5 L826.4 582.4 L828.4 583.4 L830.4 584.4 L832.4 585.4 L834.4 586.5 L836.4 587.5 L838.4 588.7 L840.4 589.8 L841.6 590.5" fill="none" stroke="#0000ff" stroke-width="2.0" clip-path="url(#cb)"/>
<path d="M268.4 506.0 L270.4 506.0 L272.4 506.0 L274.4 506.0 L276.4 506.0 L278.4 506.0 L280.4 506.0 L282.4 506.0 L284.4 506.0 L286.4 506.0 L288.4 506.0 L290.4 506.0 L292.4 506.0 L294.4 506.0 L296.4 506.1 L298.4 506.3 L300.4 506.4 L302.4 506.6 L304.4 506.8 L306.4 507.0 L308.4 507.1 L310.4 507.3 L312.4 507.5 L314.4 507.6 L316.4 507.7 L318.4 507.7 L320.4 507.8 L322.4 507.8 L324.4 507.9 L326.4 507.9 L328.4 508.0 L330.4 508.0 L332.4 508.0 L334.4 508.1 L336.4 508.1 L338.4 508.1 L340.4 508.1 L342.4 508.2 L344.4 508.2 L346.4 508.2 L348.4 508.2 L350.4 508.2 L352.4 508.2 L354.4 508.2 L356.4 508.2 L358.4 508.2 L360.4 508.2 L362.4 508.2 L364.4 508.2 L366.4 508.2 L368.4 508.2 L370.4 508.2 L372.4 508.2 L374.4 508.2 L376.4 508.2 L378.4 508.2 L380.4 508.2 L382.4 508.2 L384.4 508.2 L386.4 508.2 L388.4 508.4 L390.4 508.5 L392.4 508.7 L394.4 508.9 L396.4 509.1 L398.4 509.3 L400.4 509.4 L402.4 509.6 L404.4 509.8 L406.4 510.0 L408.4 510.2 L410.4 510.4 L412.4 510.5 L414.4 510.7 L416.4 510.7 L418.4 510.7 L420.4 510.6 L422.4 510.4 L424.4 510.2 L426.4 510.1 L428.4 509.9 L430.4 509.9 L432.4 510.0 L434.4 510.3 L436.4 510.7 L438.4 511.1 L440.4 511.6 L442.4 512.0 L444.4 512.5 L446.4 513.2 L448.4 513.9 L450.4 514.6 L452.4 515.4 L454.4 516.1 L456.4 516.7 L458.4 517.2 L460.4 517.5 L462.4 517.7 L464.4 517.7 L466.4 517.6 L468.4 517.4 L470.4 517.3 L472.4 517.0 L474.4 516.8 L476.4 516.3 L478.4 515.6 L480.4 514.9 L482.4 514.3 L484.4 514.0 L486.4 513.9 L488.4 513.9 L490.4 513.9 L492.4 513.9 L494.4 513.9 L496.4 513.9 L498.4 514.0 L500.4 514.1 L502.4 514.3 L504.4 514.6 L506.4 514.9 L508.4 515.2 L510.4 515.6 L512.4 516.0 L514.4 516.4 L516.4 516.7 L518.4 517.1 L520.4 517.6 L522.4 518.0 L524.4 518.6 L526.4 519.1 L528.4 519.7 L530.4 520.2 L532.4 520.7 L534.4 521.2 L536.4 521.6 L538.4 522.0 L540.4 522.5 L542.4 522.9 L544.4 523.2 L546.4 523.6 L548.4 523.9 L550.4 524.1 L552.4 524.4 L554.4 524.6 L556.4 524.8 L558.4 524.9 L560.4 525.0 L562.4 525.0 L564.4 524.9 L566.4 524.7 L568.4 524.6 L570.4 524.5 L572.4 524.6 L574.4 525.0 L576.4 525.7 L578.4 526.6 L580.4 527.4 L582.4 528.1 L584.4 528.7 L586.4 529.3 L588.4 529.8 L590.4 530.4 L592.4 530.9 L594.4 531.4 L596.4 531.9 L598.4 532.3 L600.4 532.7 L602.4 533.1 L604.4 533.6 L606.4 534.1 L608.4 534.6 L610.4 535.1 L612.4 535.7 L614.4 536.3 L616.4 537.0 L618.4 537.7 L620.4 538.6 L622.4 539.5 L624.4 540.3 L626.4 540.9 L628.4 541.5 L630.4 542.0 L632.4 542.4 L634.4 542.9 L636.4 543.4 L638.4 543.9 L640.4 544.5 L642.4 545.1 L644.4 545.8 L646.4 546.4 L648.4 547.1 L650.4 547.7 L652.4 548.4 L654.4 548.9 L656.4 549.5 L658.4 550.0 L660.4 550.5 L662.4 551.0 L664.4 551.5 L666.4 551.9 L668.4 552.4 L670.4 552.9 L672.4 553.4 L674.4 553.8 L676.4 554.3 L678.4 554.8 L680.4 555.4 L682.4 556.1 L684.4 556.9 L686.4 557.7 L688.4 558.6 L690.4 559.5 L692.4 560.3 L694.4 561.1 L696.4 561.9 L698.4 562.7 L700.4 563.6 L702.4 564.4 L704.4 565.3 L706.4 566.2 L708.4 567.1 L710.4 568.0 L712.4 568.8 L714.4 569.7 L716.4 570.6 L718.4 571.5 L720.4 572.3 L722.4 573.2 L724.4 574.1 L726.4 575.0 L728.4 575.9 L730.4 576.8 L732.4 577.7 L734.4 578.6 L736.4 579.6 L738.4 580.5 L740.4 581.3 L742.4 582.2 L744.4 583.1 L746.4 584.0 L748.4 584.9 L750.4 585.8 L752.4 586.6 L754.4 587.4 L756.4 588.3 L758.4 589.1 L760.4 589.9 L762.4 590.7 L764.4 591.5 L766.4 592.2 L768.4 593.0 L770.4 593.7 L772.4 594.3 L774.4 594.9 L776.4 595.4 L778.4 596.0 L780.4 596.5 L782.4 597.0 L784.4 597.4 L786.4 597.8 L788.4 598.2 L790.4 598.5 L792.4 598.8 L794.4 599.0 L796.4 599.3 L798.4 599.5 L800.4 599.7 L802.4 599.9 L804.4 600.1 L806.4 600.2 L808.4 600.2 L810.4 600.3 L812.4 600.3 L814.4 600.4 L816.4 600.4 L818.4 600.5 L820.4 600.5 L822.4 600.5 L824.4 600.5 L826.4 600.5 L828.4 600.4 L830.4 600.4 L832.4 600.3 L834.4 600.2 L836.4 600.1 L838.4 599.9 L840.4 599.8 L841.6 599.7" fill="none" stroke="#ff0000" stroke-width="2.0" clip-path="url(#cb)"/>
<path d="M268.4 501.0 L270.4 501.1 L272.4 501.1 L274.4 501.2 L276.4 501.2 L278.4 501.3 L280.4 501.3 L282.4 501.4 L284.4 501.4 L286.4 501.4 L288.4 501.5 L290.4 501.5 L292.4 501.6 L294.4 501.6 L296.4 501.6 L298.4 501.7 L300.4 501.7 L302.4 501.7 L304.4 501.7 L306.4 501.8 L308.4 501.8 L310.4 501.8 L312.4 501.8 L314.4 501.8 L316.4 501.8 L318.4 501.8 L320.4 501.8 L322.4 501.8 L324.4 501.8 L326.4 501.8 L328.4 501.8 L330.4 501.8 L332.4 501.8 L334.4 501.8 L336.4 501.7 L338.4 501.7 L340.4 501.7 L342.4 501.7 L344.4 501.7 L346.4 501.7 L348.4 501.7 L350.4 501.6 L352.4 501.6 L354.4 501.6 L356.4 501.6 L358.4 501.6 L360.4 501.6 L362.4 501.5 L364.4 501.5 L366.4 501.5 L368.4 501.5 L370.4 501.5 L372.4 501.4 L374.4 501.4 L376.4 501.4 L378.4 501.4 L380.4 501.3 L382.4 501.3 L384.4 501.2 L386.4 501.2 L388.4 501.2 L390.4 501.1 L392.4 501.1 L394.4 501.0 L396.4 501.0 L398.4 500.9 L400.4 500.9 L402.4 500.8 L404.4 500.8 L406.4 500.7 L408.4 500.6 L410.4 500.5 L412.4 500.4 L414.4 500.3 L416.4 500.2 L418.4 500.1 L420.4 500.0 L422.4 499.9 L424.4 499.9 L426.4 499.8 L428.4 499.8 L430.4 499.8 L432.4 499.9 L434.4 500.0 L436.4 500.2 L438.4 500.5 L440.4 500.8 L442.4 501.1 L444.4 501.5 L446.4 502.2 L448.4 502.8 L450.4 503.5 L452.4 504.0 L454.4 504.4 L456.4 504.8 L458.4 505.1 L460.4 505.5 L462.4 505.7 L464.4 505.9 L466.4 506.0 L468.4 505.9 L470.4 505.6 L472.4 505.0 L474.4 504.3 L476.4 503.7 L478.4 503.1 L480.4 502.4 L482.4 501.6 L484.4 500.9 L486.4 500.3 L488.4 499.9 L490.4 499.6 L492.4 499.3 L494.4 499.1 L496.4 499.0 L498.4 498.8 L500.4 498.8 L502.4 498.8 L504.4 498.9 L506.4 499.0 L508.4 499.2 L510.4 499.4 L512.4 499.6 L514.4 499.9 L516.4 500.1 L518.4 500.3 L520.4 500.7 L522.4 501.1 L524.4 501.5 L526.4 501.9 L528.4 502.4 L530.4 502.8 L532.4 503.2 L534.4 503.6 L536.4 503.9 L538.4 504.2 L540.4 504.6 L542.4 504.9 L544.4 505.1 L546.4 505.3 L548.4 505.3 L550.4 505.3 L552.4 505.2 L554.4 505.2 L556.4 505.1 L558.4 505.1 L560.4 505.0 L562.4 504.9 L564.4 504.7 L566.4 504.6 L568.4 504.5 L570.4 504.6 L572.4 505.0 L574.4 505.5 L576.4 506.1 L578.4 506.8 L580.4 507.5 L582.4 508.2 L584.4 508.9 L586.4 509.6 L588.4 510.4 L590.4 511.2 L592.4 512.0 L594.4 512.8 L596.4 513.5 L598.4 514.2 L600.4 514.9 L602.4 515.6 L604.4 516.3 L606.4 517.0 L608.4 517.7 L610.4 518.3 L612.4 519.0 L614.4 519.7 L616.4 520.5 L618.4 521.2 L620.4 522.0 L622.4 522.8 L624.4 523.6 L626.4 524.4 L628.4 525.3 L630.4 526.1 L632.4 526.9 L634.4 527.7 L636.4 528.5 L638.4 529.3 L640.4 530.0 L642.4 530.8 L644.4 531.6 L646.4 532.4 L648.4 533.2 L650.4 534.0 L652.4 534.8 L654.4 535.7 L656.4 536.6 L658.4 537.6 L660.4 538.6 L662.4 539.6 L664.4 540.6 L666.4 541.6 L668.4 542.6 L670.4 543.7 L672.4 544.7 L674.4 545.8 L676.4 546.8 L678.4 547.8 L680.4 548.8 L682.4 549.9 L684.4 551.0 L686.4 552.1 L688.4 553.4 L690.4 554.7 L692.4 556.2 L694.4 557.8 L696.4 559.5 L698.4 561.1 L700.4 562.7 L702.4 564.3 L704.4 565.9 L706.4 567.5 L708.4 569.0 L710.4 570.6 L712.4 572.1 L714.4 573.6 L716.4 575.1 L718.4 576.6 L720.4 578.1 L722.4 579.6 L724.4 581.1 L726.4 582.6 L728.4 584.1 L730.4 585.6 L732.4 587.1 L734.4 588.6 L736.4 590.1 L738.4 591.6 L740.4 593.1 L742.4 594.5 L744.4 595.9 L746.4 597.3 L748.4 598.7 L750.4 600.1 L752.4 601.5 L754.4 602.9 L756.4 604.3 L758.4 605.7 L760.4 607.1 L760.5 607.2" fill="none" stroke="#ff0000" stroke-width="2.0" stroke-dasharray="12 7.5 2.5 7.5" stroke-dashoffset="18.7" clip-path="url(#cb)"/>
<path d="M268.4 503.0 L270.4 503.1 L272.4 503.2 L274.4 503.3 L276.4 503.4 L278.4 503.5 L280.4 503.6 L282.4 503.7 L284.4 503.8 L286.4 503.8 L288.4 503.9 L290.4 504.0 L292.4 504.0 L294.4 504.1 L296.4 504.1 L298.4 504.1 L300.4 504.2 L302.4 504.2 L304.4 504.2 L306.4 504.3 L308.4 504.3 L310.4 504.3 L312.4 504.3 L314.4 504.3 L316.4 504.3 L318.4 504.3 L320.4 504.3 L322.4 504.3 L324.4 504.2 L326.4 504.2 L328.4 504.1 L330.4 504.1 L332.4 504.0 L334.4 503.9 L336.4 503.8 L338.4 503.7 L340.4 503.7 L342.4 503.6 L344.4 503.5 L346.4 503.4 L348.4 503.3 L350.4 503.2 L352.4 503.1 L354.4 503.0 L356.4 502.9 L358.4 502.8 L360.4 502.6 L362.4 502.5 L364.4 502.4 L366.4 502.2 L368.4 502.1 L370.4 501.9 L372.4 501.8 L374.4 501.6 L376.4 501.5 L378.4 501.3 L380.4 501.2 L382.4 501.1 L384.4 501.0 L386.4 500.9 L388.4 500.8 L390.4 500.7 L392.4 500.6 L394.4 500.5 L396.4 500.4 L398.4 500.3 L400.4 500.2 L402.4 500.0 L404.4 499.9 L406.4 499.7 L408.4 499.6 L410.4 499.4 L412.4 499.2 L414.4 499.0 L416.4 498.8 L418.4 498.7 L420.4 498.5 L422.4 498.4 L424.4 498.3 L426.4 498.2 L428.4 498.1 L430.4 498.1 L432.4 498.2 L434.4 498.3 L436.4 498.5 L438.4 498.8 L440.4 499.1 L442.4 499.4 L444.4 500.0 L446.4 500.7 L448.4 501.6 L450.4 502.5 L452.4 503.2 L454.4 503.7 L456.4 504.1 L458.4 504.4 L460.4 504.7 L462.4 504.8 L464.4 504.7 L466.4 504.2 L468.4 503.4 L470.4 502.5 L472.4 501.6 L474.4 500.7 L476.4 499.7 L478.4 498.7 L480.4 497.6 L482.4 496.5 L484.4 495.5 L486.4 494.7 L488.4 493.9 L490.4 493.1 L492.4 492.4 L494.4 491.9 L496.4 491.7 L498.4 491.6 L500.4 491.5 L502.4 491.5 L504.4 491.4 L506.4 491.4 L508.4 491.4 L510.4 491.6 L512.4 491.8 L514.4 492.1 L516.4 492.5 L518.4 492.8 L520.4 493.3 L522.4 493.8 L524.4 494.4 L526.4 494.9 L528.4 495.3 L530.4 495.8 L532.4 496.2 L534.4 496.6 L536.4 496.8 L538.4 497.0 L540.4 497.0 L542.4 496.9 L544.4 496.8 L546.4 496.6 L548.4 496.4 L550.4 496.2 L552.4 496.0 L554.4 495.6 L556.4 495.2 L558.4 494.8 L560.4 494.5 L562.4 494.3 L564.4 494.0 L566.4 493.8 L568.4 493.7 L570.4 493.8 L572.4 494.3 L574.4 494.9 L576.4 495.6 L578.4 496.4 L580.4 497.1 L582.4 497.7 L584.4 498.2 L586.4 498.7 L588.4 499.2 L590.4 499.7 L592.4 500.2 L594.4 500.7 L596.4 501.2 L598.4 501.7 L600.4 502.2 L602.4 502.6 L604.4 503.1 L606.4 503.6 L608.4 504.1 L610.4 504.6 L612.4 505.1 L614.4 505.7 L616.4 506.2 L618.4 506.9 L620.4 507.5 L622.4 508.2 L624.4 508.9 L626.4 509.6 L628.4 510.3 L630.4 511.0 L632.4 511.8 L634.4 512.5 L636.4 513.3 L638.4 514.0 L640.4 514.8 L642.4 515.6 L644.4 516.4 L646.4 517.2 L648.4 518.1 L650.4 518.9 L652.4 519.7 L654.4 520.5 L656.4 521.3 L658.4 522.1 L660.4 522.9 L662.4 523.7 L664.4 524.5 L666.4 525.3 L668.4 526.1 L670.4 526.9 L672.4 527.7 L674.4 528.5 L676.4 529.3 L678.4 530.1 L680.4 530.8 L682.4 531.6 L684.4 532.4 L686.4 533.3 L688.4 534.2 L690.4 535.1 L692.4 536.1 L694.4 537.2 L696.4 538.3 L698.4 539.4 L700.4 540.6 L702.4 541.8 L704.4 543.0 L706.4 544.2 L708.4 545.3 L710.4 546.5 L712.4 547.7 L714.4 548.9 L716.4 550.1 L718.4 551.3 L720.4 552.5 L722.4 553.7 L724.4 554.9 L726.4 556.2 L728.4 557.4 L730.4 558.6 L732.4 559.8 L734.4 561.0 L736.4 562.2 L738.4 563.4 L740.4 564.6 L742.4 565.7 L744.4 566.8 L746.4 568.0 L748.4 569.1 L750.4 570.2 L752.4 571.3 L754.4 572.3 L756.4 573.4 L758.4 574.4 L760.4 575.5 L762.4 576.5 L764.4 577.6 L766.4 578.6 L768.4 579.6 L770.4 580.6 L772.4 581.5 L774.4 582.4 L776.4 583.2 L778.4 584.0 L780.4 584.8 L782.4 585.6 L784.4 586.3 L786.4 587.1 L788.4 587.8 L790.4 588.5 L792.4 589.2 L794.4 589.8 L796.4 590.5 L798.4 591.1 L800.4 591.8 L802.4 592.4 L804.4 593.0 L806.4 593.5 L808.4 594.1 L810.4 594.7 L812.4 595.2 L814.4 595.7 L816.4 596.2 L818.4 596.7 L820.4 597.2 L822.4 597.6 L824.4 598.1 L826.4 598.5 L828.4 598.9 L830.4 599.3 L832.4 599.7 L834.4 600.1 L836.4 600.5 L838.4 600.9 L840.4 601.2 L841.6 601.4" fill="none" stroke="#0000ff" stroke-width="2.0" stroke-dasharray="12 7.5 2.5 7.5" stroke-dashoffset="17.7" clip-path="url(#cb)"/>
<rect x="113.0" y="98.2" width="728.9" height="507.40000000000003" fill="none" stroke="#000" stroke-width="1.8"/>
<path d="M113.0 436.4 H841.9" stroke="#000" stroke-width="1.8"/>
<path d="M142.6 98.2 v5.6 M142.6 430.8 v11.2 M142.6 605.6 v-5.6 M170.8 98.2 v5.6 M170.8 430.8 v11.2 M170.8 605.6 v-5.6 M193.9 98.2 v5.6 M193.9 430.8 v11.2 M193.9 605.6 v-5.6 M213.4 98.2 v5.6 M213.4 430.8 v11.2 M213.4 605.6 v-5.6 M230.3 98.2 v5.6 M230.3 430.8 v11.2 M230.3 605.6 v-5.6 M245.3 98.2 v5.6 M245.3 430.8 v11.2 M245.3 605.6 v-5.6 M258.6 98.2 v10.6 M258.6 425.8 v21.2 M258.6 605.6 v-10.6 M346.4 98.2 v5.6 M346.4 430.8 v11.2 M346.4 605.6 v-5.6 M397.7 98.2 v5.6 M397.7 430.8 v11.2 M397.7 605.6 v-5.6 M434.2 98.2 v5.6 M434.2 430.8 v11.2 M434.2 605.6 v-5.6 M462.4 98.2 v5.6 M462.4 430.8 v11.2 M462.4 605.6 v-5.6 M485.5 98.2 v5.6 M485.5 430.8 v11.2 M485.5 605.6 v-5.6 M505.0 98.2 v5.6 M505.0 430.8 v11.2 M505.0 605.6 v-5.6 M521.9 98.2 v5.6 M521.9 430.8 v11.2 M521.9 605.6 v-5.6 M536.9 98.2 v5.6 M536.9 430.8 v11.2 M536.9 605.6 v-5.6 M550.2 98.2 v10.6 M550.2 425.8 v21.2 M550.2 605.6 v-10.6 M638.0 98.2 v5.6 M638.0 430.8 v11.2 M638.0 605.6 v-5.6 M689.3 98.2 v5.6 M689.3 430.8 v11.2 M689.3 605.6 v-5.6 M725.8 98.2 v5.6 M725.8 430.8 v11.2 M725.8 605.6 v-5.6 M754.0 98.2 v5.6 M754.0 430.8 v11.2 M754.0 605.6 v-5.6 M777.1 98.2 v5.6 M777.1 430.8 v11.2 M777.1 605.6 v-5.6 M796.6 98.2 v5.6 M796.6 430.8 v11.2 M796.6 605.6 v-5.6 M813.5 98.2 v5.6 M813.5 430.8 v11.2 M813.5 605.6 v-5.6 M828.5 98.2 v5.6 M828.5 430.8 v11.2 M828.5 605.6 v-5.6 M113.0 403.8 h5.6 M841.9 403.8 h-5.6 M113.0 383.8 h5.6 M841.9 383.8 h-5.6 M113.0 369.7 h5.6 M841.9 369.7 h-5.6 M113.0 358.7 h5.6 M841.9 358.7 h-5.6 M113.0 349.7 h5.6 M841.9 349.7 h-5.6 M113.0 342.2 h5.6 M841.9 342.2 h-5.6 M113.0 335.6 h5.6 M841.9 335.6 h-5.6 M113.0 329.8 h5.6 M841.9 329.8 h-5.6 M113.0 324.6 h10.6 M841.9 324.6 h-10.6 M113.0 290.5 h5.6 M841.9 290.5 h-5.6 M113.0 270.5 h5.6 M841.9 270.5 h-5.6 M113.0 256.4 h5.6 M841.9 256.4 h-5.6 M113.0 245.4 h5.6 M841.9 245.4 h-5.6 M113.0 236.4 h5.6 M841.9 236.4 h-5.6 M113.0 228.9 h5.6 M841.9 228.9 h-5.6 M113.0 222.3 h5.6 M841.9 222.3 h-5.6 M113.0 216.5 h5.6 M841.9 216.5 h-5.6 M113.0 211.3 h10.6 M841.9 211.3 h-10.6 M113.0 177.2 h5.6 M841.9 177.2 h-5.6 M113.0 157.2 h5.6 M841.9 157.2 h-5.6 M113.0 143.1 h5.6 M841.9 143.1 h-5.6 M113.0 132.1 h5.6 M841.9 132.1 h-5.6 M113.0 123.1 h5.6 M841.9 123.1 h-5.6 M113.0 115.6 h5.6 M841.9 115.6 h-5.6 M113.0 109.0 h5.6 M841.9 109.0 h-5.6 M113.0 103.2 h5.6 M841.9 103.2 h-5.6 M113.0 447.7 h5.6 M841.9 447.7 h-5.6 M113.0 459.0 h5.6 M841.9 459.0 h-5.6 M113.0 470.2 h5.6 M841.9 470.2 h-5.6 M113.0 481.5 h5.6 M841.9 481.5 h-5.6 M113.0 492.8 h10.6 M841.9 492.8 h-10.6 M113.0 504.1 h5.6 M841.9 504.1 h-5.6 M113.0 515.4 h5.6 M841.9 515.4 h-5.6 M113.0 526.6 h5.6 M841.9 526.6 h-5.6 M113.0 537.9 h5.6 M841.9 537.9 h-5.6 M113.0 549.2 h10.6 M841.9 549.2 h-10.6 M113.0 560.5 h5.6 M841.9 560.5 h-5.6 M113.0 571.8 h5.6 M841.9 571.8 h-5.6 M113.0 583.0 h5.6 M841.9 583.0 h-5.6 M113.0 594.3 h5.6 M841.9 594.3 h-5.6" stroke="#000" stroke-width="1.8" fill="none"/>
<path d="M636.9 165.3 H667.3" stroke="#000" stroke-width="1.8"/>
<path d="M636.9 199.8 H667.3" stroke="#ff0000" stroke-width="1.8"/>
<path d="M636.9 234.1 H667.3" stroke="#00ff00" stroke-width="1.8"/>
<path d="M636.9 267.7 H667.3" stroke="#0000ff" stroke-width="1.8"/>
<path d="M141.4 549.8 H186.6" stroke="#000" stroke-width="1.8"/>
<path d="M141.4 583.6 H183" stroke="#000" stroke-width="1.8" stroke-dasharray="11.7 8.4 2.8 6.7"/>
<text x="234.6" y="633.4" font-size="22.6" textLength="44.5" lengthAdjust="spacing">0.01</text>
<text x="533.2" y="633.4" font-size="22.6" textLength="30.5" lengthAdjust="spacing">0.1</text>
<text x="841.3" y="633.4" font-size="22.6" text-anchor="middle">1</text>
<text x="427.3" y="676.8" font-size="22.6">k</text>
<text x="450.0" y="676.8" font-size="22.6" textLength="50" lengthAdjust="spacing">[Mpc</text>
<text x="500.5" y="666.2" font-size="16" textLength="20" lengthAdjust="spacingAndGlyphs" style="stroke-width:0.55px">−1</text>
<text x="525.6" y="676.8" font-size="22.6">]</text>
<text x="681.4" y="166.9" font-size="22.6">P</text>
<text x="681.4" y="200.5" font-size="22.6">P</text>
<text x="681.4" y="234.5" font-size="22.6">P</text>
<text x="681.4" y="268.4" font-size="22.6">P</text>
<text x="695.2" y="175.2" font-size="16" textLength="33.5" lengthAdjust="spacingAndGlyphs" style="stroke-width:0.55px">emu</text>
<text x="695.2" y="190.4" font-size="16" textLength="20" lengthAdjust="spacingAndGlyphs" style="stroke-width:0.55px">2h</text>
<text x="696.8" y="224.4" font-size="16" textLength="18.5" lengthAdjust="spacingAndGlyphs" style="stroke-width:0.55px">1h</text>
<text x="695.2" y="258.2" font-size="16" textLength="20" lengthAdjust="spacingAndGlyphs" style="stroke-width:0.55px">2h</text>
<text x="716.0" y="271.4" font-size="27.6">+</text>
<text x="732.4" y="268.4" font-size="22.6">P</text>
<text x="748.6" y="258.2" font-size="16" textLength="18.5" lengthAdjust="spacingAndGlyphs" style="stroke-width:0.55px">1h</text>
<text x="200.2" y="550.5" font-size="22.6" textLength="64.5" lengthAdjust="spacing">Zheng</text>
<text x="275.6" y="550.5" font-size="22.6" textLength="20.2" lengthAdjust="spacing">et</text>
<text x="306.8" y="550.5" font-size="22.6" textLength="24.5" lengthAdjust="spacing">al.</text>
<text x="342.2" y="550.5" font-size="22.6" textLength="73.5" lengthAdjust="spacing">(2004)</text>
<text x="200.6" y="584.1" font-size="22.6" textLength="61.5" lengthAdjust="spacing">Tinker</text>
<text x="273.1" y="584.1" font-size="22.6" textLength="20.2" lengthAdjust="spacing">et</text>
<text x="304.3" y="584.1" font-size="22.6" textLength="24.5" lengthAdjust="spacing">al.</text>
<text x="339.9" y="584.1" font-size="22.6" textLength="73.5" lengthAdjust="spacing">(2005)</text>
<g transform="translate(98.3 113.6) rotate(-90)"><text x="-1.5" y="0" font-size="22.6" textLength="26" lengthAdjust="spacing">10</text><text x="25.8" y="-10.0" font-size="16" style="stroke-width:0.55px">6</text></g>
<g transform="translate(98.3 226.79999999999998) rotate(-90)"><text x="-1.5" y="0" font-size="22.6" textLength="26" lengthAdjust="spacing">10</text><text x="25.8" y="-10.0" font-size="16" style="stroke-width:0.55px">5</text></g>
<g transform="translate(98.3 340.20000000000005) rotate(-90)"><text x="-1.5" y="0" font-size="22.6" textLength="26" lengthAdjust="spacing">10</text><text x="25.8" y="-10.0" font-size="16" style="stroke-width:0.55px">4</text></g>
<g transform="translate(98.2 436.3) rotate(-90)"><text x="0" y="0" font-size="22.6" text-anchor="middle">1.2</text></g>
<g transform="translate(98.2 492.7) rotate(-90)"><text x="0" y="0" font-size="22.6" text-anchor="middle">1</text></g>
<g transform="translate(98.2 549.2) rotate(-90)"><text x="0" y="0" font-size="22.6" text-anchor="middle">0.8</text></g>
<g transform="translate(98.2 605.3) rotate(-90)"><text x="0" y="0" font-size="22.6" text-anchor="middle">0.6</text></g>
<g transform="translate(65.4 289.6) rotate(-90)"><text x="0" y="0" font-size="22.6" textLength="44" lengthAdjust="spacing">P(k)</text></g>
<g transform="translate(65.4 605.4) rotate(-90)"><text x="0" y="0" font-size="22.6" textLength="39.5" lengthAdjust="spacing">P(k)</text><text x="43.8" y="8.3" font-size="16" textLength="51.8" lengthAdjust="spacingAndGlyphs" style="stroke-width:0.55px">model</text><text x="92" y="1.9" font-size="28" transform="translate(92 1.9) skewX(-21) translate(-92 -1.9)">/</text><text x="105.5" y="0" font-size="22.6" textLength="41" lengthAdjust="spacing">P(k)</text><text x="152.8" y="8.3" font-size="16" textLength="33" lengthAdjust="spacingAndGlyphs" style="stroke-width:0.55px">emu</text></g>
</svg>
</body></html>
